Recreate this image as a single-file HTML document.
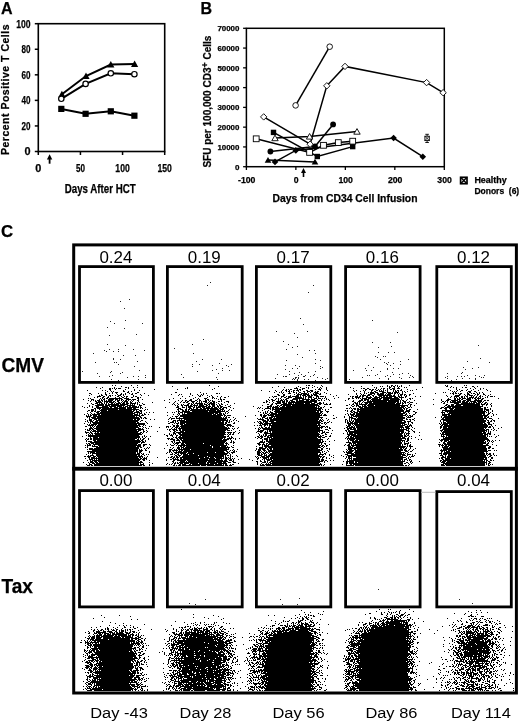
<!DOCTYPE html>
<html><head><meta charset="utf-8"><style>
html,body{margin:0;padding:0;background:#fff;}
svg{filter:grayscale(1);}
svg{display:block;}
text{font-family:"Liberation Sans", sans-serif;fill:#000;}
text[font-weight="bold"]{stroke:#000;stroke-width:0.25px;}
</style></head><body>
<svg width="520" height="724" viewBox="0 0 520 724">
<rect width="520" height="724" fill="#fff"/>
<rect x="38.3" y="23.7" width="126.39999999999999" height="127.8" fill="none" stroke="#000" stroke-width="1.6"/>
<line x1="34.8" y1="151.5" x2="38.3" y2="151.5" stroke="#000" stroke-width="1.5"/>
<text x="30.6" y="155.4" font-size="10.9" font-weight="bold" text-anchor="end">0</text>
<line x1="34.8" y1="125.94" x2="38.3" y2="125.94" stroke="#000" stroke-width="1.5"/>
<text x="30.6" y="129.84" font-size="10.9" font-weight="bold" text-anchor="end" textLength="9.0" lengthAdjust="spacingAndGlyphs">20</text>
<line x1="34.8" y1="100.38" x2="38.3" y2="100.38" stroke="#000" stroke-width="1.5"/>
<text x="30.6" y="104.28" font-size="10.9" font-weight="bold" text-anchor="end" textLength="9.0" lengthAdjust="spacingAndGlyphs">40</text>
<line x1="34.8" y1="74.82" x2="38.3" y2="74.82" stroke="#000" stroke-width="1.5"/>
<text x="30.6" y="78.72" font-size="10.9" font-weight="bold" text-anchor="end" textLength="9.0" lengthAdjust="spacingAndGlyphs">60</text>
<line x1="34.8" y1="49.260000000000005" x2="38.3" y2="49.260000000000005" stroke="#000" stroke-width="1.5"/>
<text x="30.6" y="53.160000000000004" font-size="10.9" font-weight="bold" text-anchor="end" textLength="9.0" lengthAdjust="spacingAndGlyphs">80</text>
<line x1="34.8" y1="23.700000000000003" x2="38.3" y2="23.700000000000003" stroke="#000" stroke-width="1.5"/>
<text x="30.6" y="27.6" font-size="10.9" font-weight="bold" text-anchor="end" textLength="14.4" lengthAdjust="spacingAndGlyphs">100</text>
<line x1="38.3" y1="151.5" x2="38.3" y2="155.0" stroke="#000" stroke-width="1.5"/>
<text x="38.3" y="172" font-size="10.9" font-weight="bold" text-anchor="middle">0</text>
<line x1="80.43333333333334" y1="151.5" x2="80.43333333333334" y2="155.0" stroke="#000" stroke-width="1.5"/>
<text x="80.43333333333334" y="172" font-size="10.9" font-weight="bold" text-anchor="middle" textLength="9.0" lengthAdjust="spacingAndGlyphs">50</text>
<line x1="122.56666666666666" y1="151.5" x2="122.56666666666666" y2="155.0" stroke="#000" stroke-width="1.5"/>
<text x="122.56666666666666" y="172" font-size="10.9" font-weight="bold" text-anchor="middle" textLength="14.4" lengthAdjust="spacingAndGlyphs">100</text>
<line x1="164.7" y1="151.5" x2="164.7" y2="155.0" stroke="#000" stroke-width="1.5"/>
<text x="164.7" y="172" font-size="10.9" font-weight="bold" text-anchor="middle" textLength="14.4" lengthAdjust="spacingAndGlyphs">150</text>
<text x="100.2" y="193.4" font-size="12.2" font-weight="bold" text-anchor="middle" textLength="71" lengthAdjust="spacingAndGlyphs">Days After HCT</text>
<text transform="translate(8.6,89.5) rotate(-90)" x="0" y="0" font-size="10.9" font-weight="bold" text-anchor="middle" textLength="131" lengthAdjust="spacingAndGlyphs" letter-spacing="0.5">Percent Positive T Cells</text>
<path d="M49.6 163.7V158" stroke="#000" stroke-width="1.8"/><path d="M46.9 159.4L49.6 154.2L52.3 159.4Z" fill="#000"/>
<polyline points="61.9,94.3 86,76 110.8,64.5 134.6,64.1" fill="none" stroke="#000" stroke-width="2"/>
<polyline points="61.3,98.8 85.6,83.9 110.8,73.3 134.4,74.2" fill="none" stroke="#000" stroke-width="2"/>
<polyline points="61.3,108.9 85.6,113.8 110.8,111.3 134.4,115.7" fill="none" stroke="#000" stroke-width="2"/>
<path d="M58.3 97.3L61.9 90.7L65.5 97.3Z" fill="#000"/>
<path d="M82.4 79.0L86 72.4L89.6 79.0Z" fill="#000"/>
<path d="M107.2 67.5L110.8 60.9L114.39999999999999 67.5Z" fill="#000"/>
<path d="M131.0 67.1L134.6 60.49999999999999L138.2 67.1Z" fill="#000"/>
<circle cx="61.3" cy="98.8" r="2.7" fill="#fff" stroke="#000" stroke-width="1.2"/>
<circle cx="85.6" cy="83.9" r="2.7" fill="#fff" stroke="#000" stroke-width="1.2"/>
<circle cx="110.8" cy="73.3" r="2.7" fill="#fff" stroke="#000" stroke-width="1.2"/>
<circle cx="134.4" cy="74.2" r="2.7" fill="#fff" stroke="#000" stroke-width="1.2"/>
<rect x="58.199999999999996" y="105.80000000000001" width="6.2" height="6.2" fill="#000"/>
<rect x="82.5" y="110.7" width="6.2" height="6.2" fill="#000"/>
<rect x="107.7" y="108.2" width="6.2" height="6.2" fill="#000"/>
<rect x="131.3" y="112.60000000000001" width="6.2" height="6.2" fill="#000"/>
<text x="1" y="13.5" font-size="16" font-weight="bold" text-anchor="start">A</text>
<rect x="246.4" y="28.3" width="197.9" height="138.39999999999998" fill="none" stroke="#000" stroke-width="1.5"/>
<line x1="243.1" y1="166.7" x2="246.4" y2="166.7" stroke="#000" stroke-width="1.3"/>
<text x="239.4" y="169.6" font-size="8" font-weight="bold" text-anchor="end">0</text>
<line x1="243.1" y1="146.92857142857142" x2="246.4" y2="146.92857142857142" stroke="#000" stroke-width="1.3"/>
<text x="239.4" y="149.82857142857142" font-size="8" font-weight="bold" text-anchor="end" textLength="22" lengthAdjust="spacingAndGlyphs">10000</text>
<line x1="243.1" y1="127.15714285714284" x2="246.4" y2="127.15714285714284" stroke="#000" stroke-width="1.3"/>
<text x="239.4" y="130.05714285714285" font-size="8" font-weight="bold" text-anchor="end" textLength="22" lengthAdjust="spacingAndGlyphs">20000</text>
<line x1="243.1" y1="107.38571428571427" x2="246.4" y2="107.38571428571427" stroke="#000" stroke-width="1.3"/>
<text x="239.4" y="110.28571428571428" font-size="8" font-weight="bold" text-anchor="end" textLength="22" lengthAdjust="spacingAndGlyphs">30000</text>
<line x1="243.1" y1="87.61428571428571" x2="246.4" y2="87.61428571428571" stroke="#000" stroke-width="1.3"/>
<text x="239.4" y="90.51428571428572" font-size="8" font-weight="bold" text-anchor="end" textLength="22" lengthAdjust="spacingAndGlyphs">40000</text>
<line x1="243.1" y1="67.84285714285714" x2="246.4" y2="67.84285714285714" stroke="#000" stroke-width="1.3"/>
<text x="239.4" y="70.74285714285715" font-size="8" font-weight="bold" text-anchor="end" textLength="22" lengthAdjust="spacingAndGlyphs">50000</text>
<line x1="243.1" y1="48.07142857142857" x2="246.4" y2="48.07142857142857" stroke="#000" stroke-width="1.3"/>
<text x="239.4" y="50.97142857142857" font-size="8" font-weight="bold" text-anchor="end" textLength="22" lengthAdjust="spacingAndGlyphs">60000</text>
<line x1="243.1" y1="28.30000000000001" x2="246.4" y2="28.30000000000001" stroke="#000" stroke-width="1.3"/>
<text x="239.4" y="31.20000000000001" font-size="8" font-weight="bold" text-anchor="end" textLength="22" lengthAdjust="spacingAndGlyphs">70000</text>
<line x1="246.4" y1="166.7" x2="246.4" y2="170.0" stroke="#000" stroke-width="1.3"/>
<text x="246.70000000000002" y="183.2" font-size="8.7" font-weight="bold" text-anchor="middle">-100</text>
<line x1="295.875" y1="166.7" x2="295.875" y2="170.0" stroke="#000" stroke-width="1.3"/>
<text x="296.175" y="183.2" font-size="8.7" font-weight="bold" text-anchor="middle">0</text>
<line x1="345.35" y1="166.7" x2="345.35" y2="170.0" stroke="#000" stroke-width="1.3"/>
<text x="345.65000000000003" y="183.2" font-size="8.7" font-weight="bold" text-anchor="middle">100</text>
<line x1="394.82500000000005" y1="166.7" x2="394.82500000000005" y2="170.0" stroke="#000" stroke-width="1.3"/>
<text x="395.12500000000006" y="183.2" font-size="8.7" font-weight="bold" text-anchor="middle">200</text>
<line x1="444.3" y1="166.7" x2="444.3" y2="170.0" stroke="#000" stroke-width="1.3"/>
<text x="444.6" y="183.2" font-size="8.7" font-weight="bold" text-anchor="middle">300</text>
<text x="345" y="201.8" font-size="10.8" font-weight="bold" text-anchor="middle" textLength="145" lengthAdjust="spacingAndGlyphs">Days from CD34 Cell Infusion</text>
<text transform="translate(210.9,101.6) rotate(-90)" x="0" y="0" font-size="10.1" font-weight="bold" text-anchor="middle" textLength="132" lengthAdjust="spacingAndGlyphs">SFU per 100,000 CD3<tspan dy="-3.4" font-size="9">+</tspan><tspan dy="3.4"> Cells</tspan></text>
<path d="M303.5 177V171.5" stroke="#000" stroke-width="1.6"/><path d="M301 173L303.5 168L306 173Z" fill="#000"/>
<text x="200.5" y="13.8" font-size="16" font-weight="bold" text-anchor="start">B</text>
<rect x="460.6" y="177.3" width="6.4" height="6.4" fill="#fff" stroke="#000" stroke-width="1.7"/><path d="M460.6 177.3L467 183.7M467 177.3L460.6 183.7" stroke="#000" stroke-width="1.4"/>
<text x="474.4" y="182.9" font-size="8.6" font-weight="bold" text-anchor="start" textLength="32.3" lengthAdjust="spacingAndGlyphs">Healthy</text>
<text x="474.4" y="193.8" font-size="8.6" font-weight="bold" text-anchor="start" textLength="44.8" lengthAdjust="spacingAndGlyphs">Donors&#160; (6)</text>
<polyline points="295.6,105.4 329.7,46.7" fill="none" stroke="#000" stroke-width="1.5"/>
<polyline points="263.7,116.9 310.1,144.2 326.8,85.8 345,66.4 426.6,82.6 443.1,92.7" fill="none" stroke="#000" stroke-width="1.5"/>
<polyline points="273.5,132.4 317.3,156.5 352.7,146.6" fill="none" stroke="#000" stroke-width="1.5"/>
<polyline points="275,138.1 309.6,136.5 357,131.6" fill="none" stroke="#000" stroke-width="1.5"/>
<polyline points="256.2,138.8 309.6,152.4 323.5,145.3 338.3,142.6 352.7,141.2" fill="none" stroke="#000" stroke-width="1.5"/>
<polyline points="270.4,151.5 315,146.5 333.1,124.4" fill="none" stroke="#000" stroke-width="1.5"/>
<polyline points="268,160.1 315,161.9" fill="none" stroke="#000" stroke-width="1.5"/>
<polyline points="275,161.9 295.8,150.4 393.6,138 422.8,156.7" fill="none" stroke="#000" stroke-width="1.5"/>
<circle cx="295.6" cy="105.4" r="2.8" fill="#fff" stroke="#000" stroke-width="0.9"/>
<circle cx="329.7" cy="46.7" r="2.8" fill="#fff" stroke="#000" stroke-width="0.9"/>
<path d="M263.7 113.7L266.9 116.9L263.7 120.10000000000001L260.5 116.9Z" fill="#fff" stroke="#000" stroke-width="0.9"/>
<path d="M310.1 141.0L313.3 144.2L310.1 147.39999999999998L306.90000000000003 144.2Z" fill="#fff" stroke="#000" stroke-width="0.9"/>
<path d="M326.8 82.6L330.0 85.8L326.8 89.0L323.6 85.8Z" fill="#fff" stroke="#000" stroke-width="0.9"/>
<path d="M345 63.2L348.2 66.4L345 69.60000000000001L341.8 66.4Z" fill="#fff" stroke="#000" stroke-width="0.9"/>
<path d="M426.6 79.39999999999999L429.8 82.6L426.6 85.8L423.40000000000003 82.6Z" fill="#fff" stroke="#000" stroke-width="0.9"/>
<path d="M443.1 89.5L446.3 92.7L443.1 95.9L439.90000000000003 92.7Z" fill="#fff" stroke="#000" stroke-width="0.9"/>
<rect x="270.8" y="129.70000000000002" width="5.4" height="5.4" fill="#000"/>
<rect x="314.6" y="153.8" width="5.4" height="5.4" fill="#000"/>
<rect x="350.0" y="143.9" width="5.4" height="5.4" fill="#000"/>
<path d="M271.8 140.7L275 135.1L278.2 140.7Z" fill="#fff" stroke="#000" stroke-width="0.9"/>
<path d="M306.40000000000003 139.1L309.6 133.5L312.8 139.1Z" fill="#fff" stroke="#000" stroke-width="0.9"/>
<path d="M353.8 134.2L357 128.6L360.2 134.2Z" fill="#fff" stroke="#000" stroke-width="0.9"/>
<rect x="253.29999999999998" y="135.9" width="5.8" height="5.8" fill="#fff" stroke="#000" stroke-width="0.9"/>
<rect x="306.70000000000005" y="149.5" width="5.8" height="5.8" fill="#fff" stroke="#000" stroke-width="0.9"/>
<rect x="320.6" y="142.4" width="5.8" height="5.8" fill="#fff" stroke="#000" stroke-width="0.9"/>
<rect x="335.40000000000003" y="139.7" width="5.8" height="5.8" fill="#fff" stroke="#000" stroke-width="0.9"/>
<rect x="349.8" y="138.29999999999998" width="5.8" height="5.8" fill="#fff" stroke="#000" stroke-width="0.9"/>
<circle cx="270.4" cy="151.5" r="2.9" fill="#000"/>
<circle cx="315" cy="146.5" r="2.9" fill="#000"/>
<circle cx="333.1" cy="124.4" r="2.9" fill="#000"/>
<path d="M264.7 162.79999999999998L268 157.0L271.3 162.79999999999998Z" fill="#000"/>
<path d="M311.7 164.6L315 158.8L318.3 164.6Z" fill="#000"/>
<path d="M275 158.6L278.3 161.9L275 165.20000000000002L271.7 161.9Z" fill="#000"/>
<path d="M295.8 147.1L299.1 150.4L295.8 153.70000000000002L292.5 150.4Z" fill="#000"/>
<path d="M393.6 134.7L396.90000000000003 138L393.6 141.3L390.3 138Z" fill="#000"/>
<path d="M422.8 153.39999999999998L426.1 156.7L422.8 160.0L419.5 156.7Z" fill="#000"/>
<path d="M427.1 134.3V142.5M425.3 134.3H428.9M425.3 142.5H428.9" stroke="#000" stroke-width="0.9"/>
<rect x="424.9" y="136.2" width="4.4" height="4.4" fill="#fff" stroke="#000" stroke-width="0.9"/><path d="M424.9 136.2L429.3 140.6M429.3 136.2L424.9 140.6" stroke="#000" stroke-width="0.8"/>
<text x="1" y="236.5" font-size="16.8" font-weight="bold" text-anchor="start">C</text>
<text x="1.5" y="371.8" font-size="19.5" font-weight="bold" text-anchor="start" textLength="42.5" lengthAdjust="spacingAndGlyphs">CMV</text>
<text x="1.5" y="592.6" font-size="19.5" font-weight="bold" text-anchor="start" textLength="31.5" lengthAdjust="spacingAndGlyphs">Tax</text>
<rect x="73.7" y="244.9" width="442.7" height="448.1" fill="none" stroke="#000" stroke-width="3"/>
<rect x="72.2" y="466.8" width="445.7" height="3.9" fill="#000"/>
<rect x="79.5" y="266.59999999999997" width="73.90000000000002" height="115.80000000000003" fill="none" stroke="#000" stroke-width="2.8"/>
<text x="115.95" y="263.2" font-size="15.9" text-anchor="middle" textLength="33" lengthAdjust="spacingAndGlyphs">0.24</text>
<rect x="167.4" y="266.59999999999997" width="74.8" height="115.80000000000003" fill="none" stroke="#000" stroke-width="2.8"/>
<text x="204.3" y="263.2" font-size="15.9" text-anchor="middle" textLength="33" lengthAdjust="spacingAndGlyphs">0.19</text>
<rect x="256.4" y="266.59999999999997" width="74.39999999999999" height="115.80000000000003" fill="none" stroke="#000" stroke-width="2.8"/>
<text x="293.1" y="263.2" font-size="15.9" text-anchor="middle" textLength="33" lengthAdjust="spacingAndGlyphs">0.17</text>
<rect x="345.59999999999997" y="266.59999999999997" width="74.50000000000001" height="115.80000000000003" fill="none" stroke="#000" stroke-width="2.8"/>
<text x="382.35" y="263.2" font-size="15.9" text-anchor="middle" textLength="33" lengthAdjust="spacingAndGlyphs">0.16</text>
<rect x="436.79999999999995" y="266.59999999999997" width="74.50000000000007" height="115.80000000000003" fill="none" stroke="#000" stroke-width="2.8"/>
<text x="473.55" y="263.2" font-size="15.9" text-anchor="middle" textLength="33" lengthAdjust="spacingAndGlyphs">0.12</text>
<rect x="79.5" y="490.59999999999997" width="73.90000000000002" height="116.29999999999997" fill="none" stroke="#000" stroke-width="2.8"/>
<text x="115.95" y="486.2" font-size="15.9" text-anchor="middle" textLength="33" lengthAdjust="spacingAndGlyphs">0.00</text>
<rect x="167.4" y="490.59999999999997" width="74.8" height="116.29999999999997" fill="none" stroke="#000" stroke-width="2.8"/>
<text x="204.3" y="486.2" font-size="15.9" text-anchor="middle" textLength="33" lengthAdjust="spacingAndGlyphs">0.04</text>
<rect x="256.4" y="490.59999999999997" width="74.39999999999999" height="116.29999999999997" fill="none" stroke="#000" stroke-width="2.8"/>
<text x="293.1" y="486.2" font-size="15.9" text-anchor="middle" textLength="33" lengthAdjust="spacingAndGlyphs">0.02</text>
<rect x="345.59999999999997" y="490.59999999999997" width="74.50000000000001" height="116.29999999999997" fill="none" stroke="#000" stroke-width="2.8"/>
<text x="382.35" y="486.2" font-size="15.9" text-anchor="middle" textLength="33" lengthAdjust="spacingAndGlyphs">0.00</text>
<rect x="436.79999999999995" y="491.59999999999997" width="74.50000000000007" height="115.29999999999997" fill="none" stroke="#000" stroke-width="2.8"/>
<text x="473.55" y="486.2" font-size="15.9" text-anchor="middle" textLength="33" lengthAdjust="spacingAndGlyphs">0.04</text>
<line x1="421" y1="492.3" x2="435.5" y2="492.3" stroke="#bbb" stroke-width="1"/>
<text x="119" y="718.2" font-size="15.2" text-anchor="middle" textLength="57.6" lengthAdjust="spacingAndGlyphs">Day -43</text>
<text x="205.5" y="718.2" font-size="15.2" text-anchor="middle" textLength="51.8" lengthAdjust="spacingAndGlyphs">Day 28</text>
<text x="298.5" y="718.2" font-size="15.2" text-anchor="middle" textLength="52.1" lengthAdjust="spacingAndGlyphs">Day 56</text>
<text x="391.4" y="718.2" font-size="15.2" text-anchor="middle" textLength="52.0" lengthAdjust="spacingAndGlyphs">Day 86</text>
<text x="480.9" y="718.2" font-size="15.2" text-anchor="middle" textLength="60.0" lengthAdjust="spacingAndGlyphs">Day 114</text>
<path d="M112 385.5h1m2 0h1m15 0h1m5 0h1m71 0h1m96 0h1m1 0h2m2 0h1m8 0h1m50 0h1m14 0h1m3 0h2m2 0h1m1 0h1m3 0h1m7 0h1m35 0h1m1 0h1m16 0h1m1 0h1M121 386.5h1m50 0h1m45 0h1m59 0h1m19 0h1m15 0h1m7 0h1m38 0h1m18 0h1m1 0h1m4 0h1m1 0h1m1 0h1m1 0h2m2 0h1m1 0h1m1 0h1m44 0h2m3 0h1m20 0h2m3 0h1M96 387.5h1m5 0h1m11 0h1m10 0h2m1 0h1m4 0h1m3 0h1m4 0h1m44 0h1m84 0h1m11 0h1m11 0h1m3 0h1m5 0h1m1 0h1m3 0h1m4 0h1m2 0h1m5 0h1m23 0h1m23 0h1m1 0h1m12 0h2m3 0h1m3 0h1m5 0h1m1 0h1m15 0h1m27 0h1m2 0h1m2 0h1m5 0h1m2 0h2m7 0h1M100 388.5h1m8 0h2m1 0h1m1 0h1m1 0h1m1 0h3m7 0h1m56 0h1m1 0h1m26 0h1m79 0h4m4 0h3m3 0h1m10 0h1m1 0h1m4 0h1m26 0h1m7 0h1m1 0h2m2 0h2m7 0h1m4 0h1m1 0h2m2 0h1m1 0h1m2 0h3m2 0h3m56 0h1m13 0h1m4 0h1m4 0h1m2 0h1M109 389.5h2m4 0h1m9 0h1m8 0h1m19 0h1m22 0h1m34 0h1m70 0h1m2 0h1m1 0h1m1 0h2m5 0h1m1 0h2m1 0h1m12 0h1m2 0h3m5 0h1m38 0h2m2 0h2m1 0h2m1 0h1m2 0h1m1 0h1m2 0h1m3 0h1m2 0h2m1 0h2m6 0h1m5 0h1m8 0h1m31 0h1m7 0h1m2 0h1m7 0h1m5 0h1m6 0h1m5 0h1M87 390.5h1m14 0h1m2 0h1m4 0h1m12 0h1m10 0h1m4 0h1m121 0h1m13 0h1m6 0h1m2 0h2m2 0h1m3 0h2m1 0h3m1 0h1m5 0h2m2 0h3m7 0h1m6 0h1m25 0h1m2 0h1m6 0h1m1 0h1m5 0h2m3 0h2m1 0h1m1 0h1m1 0h1m1 0h1m1 0h1m5 0h1m1 0h1m1 0h2m1 0h2m8 0h1m1 0h1m37 0h1m6 0h1m3 0h2m3 0h1m4 0h1m6 0h1m8 0h1M107 391.5h1m3 0h1m1 0h1m9 0h2m3 0h1m2 0h1m137 0h1m6 0h1m4 0h1m4 0h1m1 0h2m1 0h1m1 0h1m4 0h1m4 0h2m2 0h3m1 0h2m2 0h1m1 0h2m35 0h1m5 0h1m3 0h1m6 0h1m2 0h2m3 0h5m3 0h1m5 0h1m1 0h2m1 0h1m3 0h1m1 0h1m2 0h1m44 0h1m1 0h1m1 0h1m3 0h1m7 0h3m3 0h2m14 0h1M105 392.5h1m6 0h1m2 0h3m9 0h2m8 0h2m36 0h2m23 0h1m73 0h1m4 0h1m1 0h1m1 0h1m5 0h1m3 0h2m1 0h1m2 0h2m3 0h1m2 0h1m2 0h1m3 0h4m6 0h1m39 0h1m3 0h1m1 0h4m1 0h3m4 0h4m1 0h4m1 0h1m1 0h5m3 0h1m2 0h1m37 0h1m1 0h1m7 0h1m1 0h1m11 0h1m1 0h2m5 0h1m2 0h1m2 0h1M89 393.5h2m7 0h1m6 0h1m3 0h1m2 0h1m3 0h1m4 0h1m3 0h1m3 0h1m2 0h1m2 0h2m7 0h1m45 0h1m12 0h1m2 0h1m9 0h2m1 0h1m62 0h1m5 0h3m5 0h1m1 0h1m2 0h6m1 0h1m4 0h1m1 0h4m1 0h1m5 0h1m29 0h1m3 0h1m3 0h1m1 0h1m3 0h5m2 0h2m1 0h4m2 0h1m1 0h5m1 0h2m1 0h1m1 0h1m2 0h1m10 0h1m21 0h1m14 0h1m1 0h2m1 0h2m1 0h1m1 0h2m5 0h2m2 0h1m1 0h2m2 0h1m1 0h1m3 0h1M91 394.5h1m9 0h1m3 0h2m10 0h1m2 0h2m1 0h1m1 0h1m5 0h2m7 0h1m30 0h1m7 0h1m1 0h1m8 0h1m6 0h1m3 0h1m1 0h1m73 0h2m4 0h2m9 0h1m2 0h5m1 0h6m2 0h1m1 0h4m2 0h2m9 0h1m17 0h1m7 0h1m4 0h1m1 0h1m4 0h4m2 0h1m2 0h7m1 0h1m1 0h4m3 0h1m3 0h1m1 0h3m1 0h2m3 0h2m42 0h1m5 0h2m3 0h1m2 0h3m5 0h1m1 0h2m4 0h2m5 0h1M89 395.5h1m9 0h1m1 0h2m3 0h1m2 0h2m1 0h1m2 0h1m2 0h3m2 0h1m9 0h1m7 0h1m6 0h1m29 0h1m13 0h1m5 0h1m1 0h1m1 0h1m4 0h1m3 0h1m66 0h2m3 0h2m5 0h1m5 0h3m1 0h1m1 0h4m1 0h3m1 0h2m1 0h4m18 0h1m20 0h1m2 0h1m1 0h4m1 0h3m2 0h2m4 0h14m1 0h2m3 0h1m1 0h2m2 0h1m1 0h1m2 0h1m36 0h1m8 0h5m5 0h1m1 0h1m1 0h4m1 0h1m2 0h1m2 0h1m4 0h1m2 0h1M97 396.5h4m2 0h2m3 0h1m1 0h1m6 0h2m2 0h1m2 0h1m1 0h2m5 0h1m1 0h2m45 0h1m6 0h1m9 0h2m8 0h1m2 0h1m4 0h1m3 0h1m6 0h1m43 0h1m1 0h3m4 0h3m2 0h1m1 0h3m1 0h7m1 0h1m2 0h1m1 0h2m1 0h4m4 0h3m1 0h4m1 0h1m7 0h1m16 0h1m1 0h2m1 0h3m1 0h2m1 0h2m2 0h2m2 0h1m2 0h1m1 0h2m2 0h3m1 0h2m1 0h2m1 0h7m2 0h2m1 0h1m3 0h2m8 0h1m4 0h1m26 0h1m3 0h1m2 0h5m2 0h2m1 0h1m1 0h2m3 0h1m1 0h1m2 0h1m2 0h2m1 0h1m4 0h1m2 0h3m1 0h1M94 397.5h1m2 0h1m4 0h2m3 0h2m6 0h1m3 0h1m2 0h2m2 0h1m4 0h2m4 0h2m1 0h1m54 0h1m11 0h1m4 0h2m6 0h1m3 0h2m43 0h1m3 0h1m7 0h1m2 0h2m2 0h4m3 0h7m1 0h1m1 0h1m2 0h4m1 0h1m2 0h1m1 0h1m6 0h1m12 0h1m13 0h1m2 0h5m2 0h1m3 0h6m2 0h6m1 0h11m2 0h4m1 0h5m1 0h1m44 0h1m3 0h1m1 0h1m2 0h1m1 0h2m1 0h1m2 0h1m1 0h5m1 0h2m1 0h1m1 0h1m4 0h1m1 0h1M88 398.5h1m1 0h1m9 0h1m1 0h1m1 0h1m1 0h2m1 0h13m2 0h5m8 0h2m34 0h1m6 0h1m4 0h1m7 0h1m4 0h1m5 0h3m5 0h1m1 0h1m1 0h1m3 0h1m55 0h1m1 0h1m1 0h1m5 0h3m4 0h11m1 0h1m2 0h1m2 0h1m2 0h3m1 0h3m1 0h1m1 0h1m1 0h1m7 0h1m13 0h2m2 0h2m2 0h1m1 0h1m1 0h1m1 0h5m1 0h3m1 0h6m1 0h3m1 0h16m2 0h1m7 0h2m1 0h1m35 0h1m5 0h2m1 0h1m1 0h2m1 0h4m1 0h4m1 0h1m1 0h2m1 0h4m1 0h2m14 0h1M83 399.5h1m7 0h3m5 0h1m1 0h1m1 0h2m3 0h6m1 0h3m1 0h1m1 0h2m3 0h5m1 0h4m2 0h1m3 0h1m26 0h1m20 0h2m5 0h1m1 0h1m5 0h1m1 0h2m9 0h1m1 0h2m1 0h2m43 0h1m2 0h2m2 0h1m2 0h1m2 0h1m1 0h1m1 0h2m5 0h6m1 0h1m2 0h8m1 0h4m2 0h1m3 0h1m4 0h1m1 0h1m19 0h1m12 0h2m1 0h5m2 0h10m2 0h6m1 0h10m1 0h1m5 0h1m2 0h1m22 0h1m7 0h1m5 0h4m3 0h2m1 0h3m1 0h2m3 0h5m4 0h2m1 0h1m2 0h2M88 400.5h1m2 0h1m1 0h1m1 0h1m1 0h3m1 0h2m1 0h1m1 0h1m1 0h5m2 0h1m1 0h3m1 0h1m1 0h1m1 0h2m1 0h1m2 0h1m1 0h1m3 0h2m25 0h1m13 0h1m3 0h1m2 0h2m2 0h3m3 0h2m2 0h2m4 0h2m1 0h1m1 0h1m1 0h1m8 0h1m44 0h1m2 0h1m2 0h3m3 0h1m1 0h3m1 0h1m1 0h2m2 0h3m3 0h2m1 0h5m2 0h3m1 0h7m1 0h2m1 0h1m2 0h1m4 0h1m15 0h1m7 0h1m5 0h4m1 0h2m1 0h2m1 0h1m1 0h27m1 0h1m1 0h2m2 0h1m7 0h1m26 0h1m4 0h3m2 0h7m1 0h2m2 0h3m1 0h4m3 0h8m2 0h2m1 0h2M90 401.5h1m4 0h2m1 0h3m1 0h1m1 0h8m1 0h2m2 0h2m3 0h1m1 0h4m2 0h1m1 0h1m5 0h1m36 0h1m5 0h1m3 0h1m1 0h2m2 0h4m2 0h1m1 0h1m1 0h1m1 0h4m2 0h1m2 0h3m3 0h2m1 0h1m4 0h3m37 0h2m4 0h1m3 0h5m1 0h3m1 0h2m1 0h1m1 0h4m1 0h21m35 0h2m4 0h3m2 0h1m3 0h20m1 0h11m1 0h1m2 0h3m3 0h1m32 0h2m1 0h1m1 0h1m2 0h1m1 0h4m1 0h4m1 0h3m1 0h3m1 0h6m1 0h5m1 0h1M96 402.5h6m2 0h1m1 0h2m1 0h5m1 0h1m2 0h2m1 0h1m1 0h2m1 0h2m2 0h2m3 0h1m1 0h1m1 0h1m12 0h1m16 0h1m4 0h1m5 0h1m2 0h2m1 0h2m4 0h2m2 0h1m2 0h1m1 0h1m3 0h2m1 0h1m1 0h2m1 0h2m1 0h1m7 0h1m3 0h1m34 0h2m1 0h1m2 0h1m3 0h1m3 0h4m1 0h3m1 0h1m1 0h24m2 0h3m2 0h2m2 0h1m30 0h2m1 0h1m1 0h1m2 0h1m1 0h8m1 0h23m1 0h2m1 0h1m1 0h1m1 0h2m1 0h2m1 0h3m28 0h1m2 0h1m2 0h1m2 0h11m1 0h6m1 0h1m1 0h1m1 0h4m1 0h3m1 0h1m2 0h2M87 403.5h1m3 0h1m3 0h3m1 0h1m1 0h2m1 0h1m1 0h1m1 0h1m2 0h2m1 0h1m1 0h5m1 0h3m1 0h3m1 0h6m1 0h1m4 0h1m30 0h1m3 0h1m10 0h2m1 0h1m1 0h1m1 0h8m1 0h1m2 0h1m1 0h6m3 0h1m2 0h1m12 0h1m37 0h1m2 0h6m2 0h4m1 0h4m1 0h1m1 0h9m1 0h5m1 0h4m2 0h5m1 0h1m2 0h1m3 0h1m22 0h1m1 0h3m1 0h1m1 0h1m3 0h3m1 0h26m1 0h5m1 0h2m1 0h1m3 0h1m6 0h1m26 0h2m9 0h5m2 0h14m1 0h4m1 0h1m2 0h2m1 0h1m3 0h1M92 404.5h2m3 0h7m1 0h2m1 0h11m1 0h8m2 0h1m1 0h1m1 0h1m2 0h1m1 0h1m3 0h2m27 0h1m1 0h1m3 0h1m2 0h1m1 0h1m3 0h2m2 0h2m1 0h1m2 0h1m1 0h4m1 0h3m1 0h2m1 0h4m1 0h1m2 0h1m1 0h2m4 0h1m39 0h2m2 0h2m3 0h1m4 0h37m1 0h2m3 0h4m1 0h2m18 0h1m2 0h2m2 0h2m1 0h8m1 0h32m2 0h1m5 0h1m1 0h2m21 0h1m12 0h2m3 0h3m2 0h24m1 0h4m1 0h2m2 0h1M89 405.5h1m5 0h9m1 0h5m1 0h14m2 0h8m4 0h3m33 0h1m1 0h1m3 0h2m1 0h5m1 0h2m1 0h5m1 0h5m2 0h2m1 0h1m2 0h3m2 0h1m1 0h2m4 0h1m4 0h1m31 0h1m7 0h2m5 0h2m1 0h2m1 0h8m1 0h27m27 0h2m3 0h1m2 0h1m1 0h3m3 0h1m1 0h2m1 0h7m1 0h33m2 0h1m3 0h1m30 0h2m1 0h2m1 0h3m1 0h6m2 0h17m2 0h1m3 0h1m4 0h1M82 406.5h1m6 0h1m2 0h1m3 0h3m3 0h6m1 0h7m1 0h5m1 0h1m1 0h3m1 0h2m1 0h5m1 0h1m1 0h1m36 0h2m3 0h1m3 0h1m1 0h5m1 0h1m1 0h1m1 0h9m1 0h3m1 0h3m2 0h2m1 0h3m5 0h2m23 0h1m13 0h5m1 0h1m1 0h3m1 0h1m2 0h3m1 0h29m1 0h1m1 0h2m4 0h1m27 0h2m2 0h1m1 0h3m1 0h5m1 0h32m1 0h4m2 0h1m2 0h1m33 0h1m2 0h36m8 0h1M84 407.5h1m2 0h1m4 0h1m3 0h13m1 0h2m2 0h4m1 0h7m1 0h12m1 0h2m3 0h1m19 0h1m10 0h3m3 0h3m1 0h1m1 0h3m2 0h2m1 0h5m1 0h3m1 0h4m1 0h2m1 0h3m1 0h1m1 0h2m1 0h4m3 0h1m27 0h1m1 0h1m6 0h2m1 0h1m1 0h7m1 0h37m1 0h1m1 0h2m1 0h1m6 0h2m18 0h1m8 0h4m1 0h40m1 0h1m2 0h2m1 0h1m29 0h3m1 0h6m1 0h29m3 0h2m1 0h1M94 408.5h2m1 0h4m1 0h24m1 0h5m1 0h3m4 0h1m1 0h1m35 0h3m5 0h1m2 0h3m1 0h1m2 0h2m2 0h2m1 0h15m1 0h2m1 0h2m2 0h1m6 0h1m23 0h1m1 0h1m2 0h1m2 0h6m1 0h2m1 0h47m24 0h2m1 0h1m1 0h1m1 0h3m1 0h2m1 0h42m1 0h2m1 0h2m32 0h2m2 0h3m2 0h5m1 0h28m1 0h2m4 0h1M91 409.5h3m1 0h1m3 0h1m1 0h17m1 0h20m6 0h1m1 0h1m29 0h2m1 0h3m2 0h2m1 0h2m1 0h15m1 0h2m1 0h9m1 0h4m5 0h1m34 0h1m5 0h1m1 0h45m1 0h3m1 0h1m2 0h1m2 0h1m23 0h1m1 0h2m1 0h46m1 0h1m1 0h1m2 0h2m6 0h1m27 0h2m3 0h3m1 0h29m1 0h5m1 0h1M88 410.5h2m1 0h3m1 0h1m4 0h7m1 0h24m1 0h2m1 0h1m2 0h3m2 0h1m33 0h1m3 0h2m1 0h2m1 0h1m1 0h26m1 0h4m1 0h1m1 0h1m3 0h1m2 0h1m30 0h1m5 0h1m3 0h1m2 0h5m1 0h40m4 0h1m19 0h1m1 0h1m3 0h2m4 0h2m1 0h44m2 0h4m32 0h41m1 0h1m1 0h3m3 0h1M87 411.5h1m3 0h2m1 0h2m1 0h3m1 0h33m2 0h3m1 0h2m34 0h1m1 0h2m2 0h8m2 0h16m1 0h16m1 0h2m30 0h1m6 0h1m1 0h1m2 0h1m3 0h42m1 0h2m1 0h3m3 0h3m18 0h1m2 0h2m1 0h2m2 0h47m1 0h5m3 0h2m27 0h1m2 0h41m2 0h1m3 0h1M90 412.5h1m5 0h3m1 0h33m1 0h6m1 0h1m4 0h1m2 0h1m3 0h1m13 0h1m4 0h1m1 0h1m3 0h1m1 0h3m1 0h37m4 0h1m2 0h1m31 0h1m2 0h1m1 0h1m1 0h1m2 0h3m2 0h44m1 0h2m5 0h1m23 0h2m1 0h4m1 0h42m2 0h3m2 0h1m6 0h2m24 0h4m2 0h1m1 0h36m1 0h1m1 0h1m1 0h1M87 413.5h1m3 0h1m2 0h1m2 0h38m2 0h1m1 0h3m2 0h1m33 0h2m2 0h1m1 0h1m2 0h27m1 0h3m1 0h3m1 0h1m1 0h1m1 0h1m35 0h1m1 0h2m2 0h1m1 0h6m1 0h43m1 0h1m24 0h1m2 0h1m2 0h2m1 0h49m1 0h1m2 0h1m5 0h1m26 0h1m1 0h1m3 0h37m3 0h2m2 0h1M84 414.5h1m3 0h1m1 0h1m1 0h8m1 0h32m1 0h4m1 0h1m2 0h1m1 0h2m2 0h1m24 0h1m3 0h1m1 0h1m2 0h30m1 0h3m1 0h5m1 0h2m35 0h2m2 0h1m2 0h2m1 0h50m1 0h1m2 0h2m19 0h1m2 0h1m1 0h5m1 0h47m2 0h2m6 0h2m27 0h8m1 0h31m1 0h2m2 0h2m4 0h1m2 0h1M86 415.5h1m1 0h1m1 0h2m1 0h4m1 0h42m1 0h3m23 0h1m10 0h1m1 0h43m1 0h2m1 0h4m24 0h1m4 0h2m1 0h4m1 0h6m1 0h47m1 0h4m6 0h1m14 0h1m2 0h3m1 0h51m1 0h1m1 0h2m1 0h1m29 0h5m1 0h40m5 0h1M86 416.5h5m2 0h42m1 0h1m2 0h2m31 0h1m2 0h3m2 0h41m3 0h1m1 0h1m18 0h1m15 0h1m1 0h3m5 0h49m24 0h1m4 0h1m1 0h1m1 0h50m3 0h1m1 0h1m1 0h3m28 0h1m2 0h39m1 0h3m1 0h1m2 0h1M87 417.5h1m1 0h1m1 0h5m1 0h42m1 0h2m2 0h2m24 0h1m5 0h1m2 0h1m3 0h39m1 0h1m1 0h2m1 0h2m3 0h1m28 0h3m2 0h1m1 0h4m1 0h1m1 0h47m13 0h1m7 0h1m4 0h4m3 0h1m1 0h47m2 0h4m24 0h1m5 0h1m1 0h40m1 0h2m1 0h2M89 418.5h1m2 0h48m1 0h1m1 0h1m1 0h2m22 0h1m1 0h4m1 0h51m8 0h1m21 0h1m2 0h1m1 0h1m2 0h3m1 0h3m1 0h46m2 0h1m4 0h1m6 0h2m14 0h1m1 0h5m1 0h48m1 0h1m7 0h1m27 0h2m1 0h42m2 0h3m6 0h1M85 419.5h1m3 0h3m2 0h3m1 0h35m1 0h2m1 0h3m10 0h1m3 0h1m13 0h1m2 0h1m7 0h1m1 0h1m2 0h42m1 0h1m2 0h1m3 0h1m23 0h6m3 0h2m1 0h49m1 0h1m1 0h1m5 0h1m16 0h2m2 0h1m1 0h1m2 0h49m3 0h2m1 0h2m1 0h2m27 0h43m2 0h1m5 0h1M87 420.5h1m1 0h3m1 0h1m2 0h43m2 0h2m30 0h3m1 0h8m1 0h42m1 0h1m3 0h1m2 0h1m25 0h4m1 0h2m1 0h48m1 0h3m1 0h1m3 0h1m17 0h1m1 0h1m1 0h1m1 0h1m1 0h1m1 0h50m5 0h1m3 0h1m25 0h1m2 0h43m1 0h2m2 0h1m1 0h2M85 421.5h1m1 0h1m2 0h3m2 0h3m1 0h39m2 0h1m4 0h1m22 0h1m3 0h2m1 0h1m1 0h1m2 0h41m1 0h2m2 0h2m1 0h1m1 0h1m6 0h1m18 0h1m1 0h2m2 0h5m1 0h5m2 0h44m1 0h2m6 0h1m15 0h1m1 0h1m1 0h2m1 0h2m1 0h47m2 0h2m1 0h4m29 0h1m2 0h1m2 0h40m2 0h1m1 0h2m2 0h1M88 422.5h1m1 0h1m1 0h44m1 0h2m7 0h1m23 0h4m1 0h1m2 0h1m1 0h44m1 0h2m1 0h2m4 0h1m19 0h1m3 0h1m1 0h2m1 0h1m1 0h3m3 0h50m3 0h2m1 0h2m2 0h1m13 0h1m1 0h2m1 0h3m1 0h52m2 0h1m2 0h2m28 0h1m1 0h3m1 0h38m2 0h3M84 423.5h1m5 0h1m2 0h52m2 0h1m20 0h2m4 0h1m1 0h3m1 0h5m1 0h38m1 0h2m6 0h2m24 0h4m1 0h56m1 0h2m1 0h1m1 0h1m20 0h11m1 0h46m3 0h1m3 0h1m26 0h1m1 0h1m1 0h40m1 0h2m2 0h2m3 0h1M87 424.5h1m1 0h1m1 0h6m1 0h39m1 0h7m27 0h1m4 0h1m2 0h3m1 0h42m1 0h4m29 0h1m1 0h6m1 0h2m1 0h45m1 0h2m5 0h1m22 0h3m1 0h1m1 0h47m1 0h1m1 0h3m1 0h1m1 0h1m29 0h1m1 0h6m1 0h38m1 0h4M88 425.5h6m1 0h1m1 0h43m3 0h1m1 0h1m27 0h2m1 0h3m2 0h43m2 0h6m22 0h1m2 0h1m1 0h3m2 0h2m1 0h1m1 0h52m25 0h1m1 0h3m2 0h1m1 0h50m2 0h1m1 0h3m29 0h2m1 0h44m3 0h1m3 0h1M85 426.5h2m3 0h1m1 0h1m1 0h1m1 0h42m1 0h2m1 0h1m6 0h1m1 0h1m14 0h3m1 0h1m2 0h2m1 0h3m1 0h45m2 0h1m2 0h1m1 0h2m27 0h1m2 0h1m4 0h1m1 0h47m1 0h1m1 0h4m1 0h2m19 0h3m1 0h2m1 0h1m1 0h47m2 0h5m1 0h1m28 0h2m1 0h45m1 0h2m1 0h1M90 427.5h2m1 0h1m2 0h43m4 0h1m1 0h1m13 0h1m6 0h1m1 0h1m3 0h1m2 0h3m1 0h1m1 0h46m1 0h1m9 0h1m20 0h1m1 0h2m2 0h2m1 0h2m1 0h52m2 0h1m1 0h1m1 0h1m16 0h2m1 0h6m1 0h48m1 0h4m3 0h1m27 0h2m1 0h4m1 0h39m1 0h3m2 0h1m7 0h1M89 428.5h4m1 0h42m2 0h3m1 0h1m3 0h1m1 0h1m22 0h1m2 0h1m1 0h1m1 0h52m2 0h1m1 0h1m2 0h1m17 0h1m2 0h1m1 0h1m1 0h58m1 0h1m7 0h2m13 0h1m2 0h5m1 0h3m1 0h43m1 0h1m1 0h1m2 0h4m4 0h1m25 0h1m2 0h41m1 0h1m7 0h1m4 0h1M85 429.5h1m1 0h1m1 0h2m1 0h2m2 0h48m23 0h1m1 0h2m1 0h5m2 0h2m1 0h46m5 0h1m24 0h2m3 0h57m5 0h3m19 0h2m1 0h6m1 0h50m1 0h1m2 0h1m30 0h43m1 0h3m2 0h1m2 0h1M87 430.5h3m1 0h1m1 0h3m1 0h40m1 0h3m2 0h1m2 0h1m22 0h1m3 0h2m1 0h2m1 0h2m1 0h44m1 0h3m1 0h1m7 0h1m18 0h1m1 0h4m3 0h1m1 0h54m5 0h1m3 0h1m12 0h2m1 0h2m4 0h50m2 0h3m3 0h1m27 0h3m1 0h43m1 0h1m4 0h1m2 0h1M85 431.5h1m4 0h1m1 0h47m4 0h2m2 0h1m9 0h1m12 0h1m3 0h2m4 0h4m1 0h40m10 0h1m21 0h6m2 0h1m1 0h1m1 0h2m1 0h48m2 0h1m1 0h1m21 0h1m1 0h56m4 0h2m3 0h2m26 0h1m1 0h42m1 0h1m1 0h1m1 0h1M85 432.5h4m1 0h2m3 0h1m1 0h2m1 0h38m2 0h2m1 0h1m2 0h1m26 0h2m1 0h50m1 0h5m1 0h2m4 0h1m16 0h1m3 0h2m2 0h4m2 0h1m1 0h46m1 0h1m2 0h3m1 0h3m18 0h1m1 0h51m1 0h3m1 0h1m2 0h1m5 0h1m4 0h1m22 0h40m1 0h3m2 0h1m1 0h1M86 433.5h1m2 0h1m1 0h2m1 0h47m1 0h1m26 0h1m3 0h3m2 0h3m1 0h43m3 0h1m1 0h1m2 0h1m4 0h1m19 0h1m5 0h55m2 0h2m2 0h1m5 0h1m11 0h1m3 0h1m1 0h4m1 0h49m1 0h1m1 0h4m30 0h1m1 0h2m1 0h41m1 0h4M88 434.5h1m1 0h1m1 0h1m2 0h47m22 0h1m4 0h1m1 0h1m1 0h1m1 0h1m3 0h47m1 0h1m1 0h2m1 0h2m25 0h1m3 0h1m1 0h2m3 0h50m5 0h2m20 0h9m1 0h45m2 0h1m1 0h1m1 0h1m32 0h42m1 0h4m1 0h2m3 0h1M86 435.5h1m1 0h51m5 0h1m21 0h2m2 0h3m3 0h2m2 0h44m4 0h1m30 0h1m1 0h1m1 0h1m1 0h2m1 0h51m1 0h1m1 0h2m6 0h1m17 0h2m1 0h52m1 0h2m1 0h2m10 0h1m21 0h1m1 0h1m2 0h40m1 0h1m10 0h1M82 436.5h1m5 0h52m2 0h1m1 0h1m1 0h1m3 0h1m16 0h1m4 0h1m3 0h1m2 0h2m1 0h44m1 0h2m2 0h1m25 0h2m1 0h3m1 0h2m1 0h2m1 0h52m3 0h2m2 0h2m16 0h2m1 0h2m1 0h50m1 0h3m2 0h1m1 0h1m29 0h4m1 0h1m1 0h38m1 0h1m1 0h1m1 0h1m4 0h1M90 437.5h1m2 0h5m1 0h41m2 0h1m2 0h1m27 0h1m1 0h2m1 0h48m3 0h1m1 0h2m22 0h1m2 0h2m1 0h2m4 0h5m1 0h44m1 0h3m1 0h3m21 0h1m1 0h1m1 0h4m1 0h46m1 0h3m3 0h1m6 0h1m27 0h1m1 0h42m8 0h1M86 438.5h1m1 0h1m1 0h2m1 0h44m1 0h1m1 0h1m2 0h2m3 0h1m18 0h3m1 0h2m3 0h2m1 0h44m1 0h1m2 0h5m1 0h1m1 0h1m3 0h1m17 0h1m2 0h2m2 0h4m1 0h1m1 0h47m2 0h1m7 0h1m16 0h1m1 0h59m1 0h2m2 0h1m31 0h45M85 439.5h1m1 0h2m1 0h2m1 0h42m2 0h2m1 0h1m1 0h2m4 0h1m19 0h1m1 0h5m2 0h2m1 0h2m1 0h39m1 0h6m1 0h1m4 0h1m26 0h1m1 0h4m1 0h54m4 0h1m19 0h1m1 0h6m1 0h46m3 0h1m1 0h2m9 0h1m2 0h1m17 0h1m1 0h48M86 440.5h1m6 0h3m1 0h43m1 0h2m2 0h1m27 0h2m1 0h4m1 0h46m4 0h1m30 0h1m3 0h2m1 0h52m1 0h1m11 0h1m13 0h1m1 0h4m1 0h3m1 0h46m2 0h2m31 0h3m1 0h5m1 0h35m2 0h3m2 0h1m2 0h1m3 0h1M86 441.5h1m1 0h4m2 0h47m1 0h2m1 0h1m25 0h2m1 0h1m4 0h1m2 0h44m5 0h1m1 0h1m26 0h3m1 0h1m1 0h55m1 0h2m1 0h1m3 0h1m18 0h1m3 0h49m1 0h1m1 0h1m1 0h2m33 0h1m2 0h3m1 0h36m1 0h1m1 0h1m1 0h1m1 0h1m1 0h1M90 442.5h50m1 0h4m27 0h1m1 0h1m1 0h5m1 0h43m1 0h1m3 0h2m1 0h2m24 0h6m3 0h55m23 0h5m1 0h50m2 0h1m3 0h1m1 0h1m28 0h1m3 0h2m2 0h39m2 0h1m3 0h1M86 443.5h1m1 0h2m1 0h3m1 0h43m3 0h1m24 0h1m6 0h1m1 0h4m2 0h3m1 0h18m1 0h20m1 0h3m5 0h1m23 0h3m3 0h1m2 0h2m1 0h51m1 0h1m2 0h2m23 0h3m1 0h3m1 0h45m2 0h5m34 0h3m1 0h39m1 0h2M87 444.5h1m1 0h2m2 0h44m1 0h3m2 0h4m2 0h1m20 0h1m3 0h1m2 0h1m3 0h4m1 0h38m2 0h1m1 0h1m29 0h3m1 0h3m1 0h1m1 0h51m2 0h1m3 0h1m3 0h1m15 0h1m2 0h2m1 0h1m1 0h1m1 0h46m1 0h1m1 0h2m1 0h1m2 0h1m27 0h3m1 0h1m1 0h39m3 0h2m4 0h1M85 445.5h1m1 0h4m1 0h1m1 0h1m3 0h43m2 0h2m5 0h1m16 0h1m3 0h3m2 0h1m1 0h32m1 0h16m6 0h1m25 0h1m2 0h1m1 0h5m2 0h50m1 0h2m2 0h2m16 0h1m2 0h3m1 0h50m1 0h1m4 0h1m1 0h2m28 0h1m1 0h3m1 0h2m1 0h41m7 0h1M87 446.5h1m4 0h6m1 0h37m1 0h4m2 0h1m34 0h1m1 0h2m1 0h2m1 0h26m1 0h7m1 0h5m1 0h1m3 0h1m24 0h1m5 0h1m1 0h56m1 0h2m1 0h1m1 0h1m21 0h3m1 0h2m2 0h50m1 0h1m1 0h4m26 0h1m2 0h1m1 0h5m1 0h36m3 0h2M85 447.5h1m1 0h1m8 0h43m1 0h2m5 0h1m1 0h1m20 0h1m2 0h1m3 0h3m1 0h3m1 0h27m1 0h17m2 0h2m25 0h4m2 0h2m1 0h53m2 0h1m24 0h5m1 0h51m1 0h1m3 0h1m31 0h6m1 0h37m2 0h3M89 448.5h4m1 0h45m5 0h1m1 0h1m1 0h1m15 0h1m7 0h1m4 0h3m1 0h1m1 0h44m1 0h1m27 0h1m2 0h7m1 0h1m1 0h3m1 0h45m3 0h2m3 0h2m1 0h1m18 0h51m1 0h2m1 0h1m1 0h2m3 0h1m4 0h1m27 0h44m1 0h2m2 0h2M87 449.5h1m1 0h49m1 0h1m1 0h1m3 0h1m23 0h3m2 0h1m1 0h1m1 0h12m1 0h38m4 0h1m3 0h1m18 0h1m1 0h3m1 0h3m2 0h2m1 0h2m1 0h47m1 0h2m6 0h1m16 0h1m1 0h4m2 0h2m1 0h46m1 0h2m3 0h1m3 0h1m27 0h1m1 0h44M92 450.5h46m1 0h4m2 0h2m22 0h2m1 0h6m1 0h1m1 0h2m1 0h43m3 0h1m1 0h1m1 0h1m20 0h1m2 0h3m2 0h3m2 0h54m5 0h1m19 0h1m1 0h5m1 0h48m1 0h3m1 0h1m3 0h1m27 0h7m1 0h39m1 0h3m3 0h1m1 0h1M87 451.5h51m1 0h3m7 0h1m19 0h2m2 0h1m2 0h1m1 0h4m1 0h41m2 0h2m1 0h1m3 0h2m1 0h1m20 0h3m1 0h1m2 0h1m1 0h1m1 0h52m2 0h1m1 0h1m3 0h1m14 0h1m2 0h1m1 0h5m2 0h46m4 0h3m2 0h2m29 0h2m1 0h1m1 0h4m1 0h37M88 452.5h1m1 0h5m1 0h40m1 0h1m1 0h2m8 0h1m17 0h1m1 0h1m1 0h1m2 0h13m1 0h19m1 0h7m1 0h9m2 0h2m2 0h4m22 0h4m1 0h2m1 0h3m1 0h1m2 0h49m1 0h1m3 0h1m17 0h1m1 0h6m2 0h51m3 0h1m32 0h1m2 0h40m2 0h1M88 453.5h1m1 0h1m1 0h44m1 0h3m1 0h1m1 0h1m22 0h1m5 0h1m2 0h2m1 0h1m1 0h6m1 0h6m1 0h34m1 0h1m2 0h1m24 0h3m1 0h1m1 0h3m2 0h1m1 0h48m2 0h1m3 0h2m21 0h7m1 0h47m1 0h1m1 0h1m1 0h1m7 0h1m23 0h3m1 0h42m1 0h2m1 0h2m2 0h1M86 454.5h1m5 0h1m3 0h44m2 0h2m2 0h1m1 0h1m21 0h3m1 0h1m2 0h2m2 0h1m1 0h5m1 0h38m3 0h1m26 0h3m1 0h2m1 0h1m1 0h1m2 0h49m1 0h5m1 0h1m3 0h1m15 0h3m3 0h54m2 0h4m1 0h1m28 0h1m1 0h4m1 0h37m1 0h1m1 0h3m2 0h1M88 455.5h1m1 0h4m2 0h41m1 0h2m1 0h1m2 0h1m30 0h2m1 0h3m2 0h15m1 0h25m1 0h1m1 0h2m1 0h1m5 0h1m21 0h4m2 0h3m1 0h52m2 0h1m6 0h1m3 0h1m7 0h1m5 0h54m1 0h4m1 0h1m4 0h1m1 0h1m25 0h3m2 0h1m2 0h38m1 0h1m2 0h2m2 0h1m1 0h1M84 456.5h2m1 0h4m2 0h3m1 0h46m4 0h1m23 0h2m1 0h1m1 0h2m1 0h1m2 0h25m1 0h16m1 0h1m4 0h1m1 0h1m4 0h1m17 0h1m1 0h1m3 0h4m1 0h4m1 0h51m1 0h2m6 0h1m11 0h1m2 0h1m1 0h4m1 0h50m3 0h1m2 0h1m1 0h3m28 0h2m1 0h1m1 0h39m3 0h2M88 457.5h2m1 0h4m1 0h1m1 0h40m1 0h2m1 0h1m1 0h1m1 0h1m10 0h1m10 0h1m1 0h2m1 0h2m1 0h3m1 0h24m1 0h4m1 0h4m1 0h7m1 0h1m1 0h2m1 0h1m1 0h1m25 0h1m1 0h1m1 0h1m1 0h7m1 0h49m1 0h1m1 0h2m2 0h1m6 0h1m12 0h1m1 0h2m1 0h1m4 0h50m2 0h1m1 0h1m30 0h5m1 0h40m1 0h1m2 0h2M85 458.5h1m3 0h1m1 0h48m1 0h2m1 0h4m25 0h2m1 0h1m1 0h1m2 0h2m1 0h16m1 0h15m1 0h8m1 0h3m1 0h2m1 0h1m1 0h1m6 0h1m15 0h2m4 0h4m1 0h1m1 0h50m2 0h1m3 0h1m2 0h1m15 0h1m2 0h4m1 0h50m3 0h1m1 0h1m30 0h1m1 0h2m2 0h5m1 0h33m1 0h2m4 0h2M89 459.5h4m1 0h1m1 0h1m1 0h43m1 0h3m1 0h1m19 0h1m3 0h2m1 0h6m1 0h28m1 0h11m1 0h1m3 0h2m1 0h1m1 0h2m1 0h1m4 0h1m10 0h1m7 0h1m4 0h1m1 0h1m1 0h6m1 0h47m1 0h3m23 0h1m1 0h1m1 0h1m1 0h50m1 0h3m2 0h2m31 0h2m1 0h42m3 0h1M87 460.5h1m2 0h1m1 0h48m3 0h2m4 0h1m16 0h1m6 0h2m2 0h9m1 0h36m1 0h3m2 0h3m1 0h1m18 0h1m7 0h1m3 0h1m2 0h3m1 0h49m1 0h3m1 0h2m3 0h1m2 0h1m13 0h1m1 0h52m1 0h1m1 0h1m2 0h1m1 0h1m1 0h1m28 0h2m1 0h40m1 0h1m1 0h2m2 0h2m1 0h1M90 461.5h3m1 0h3m1 0h41m1 0h2m30 0h2m6 0h5m1 0h1m1 0h19m1 0h7m1 0h12m4 0h2m22 0h2m2 0h2m2 0h2m1 0h1m2 0h53m1 0h1m2 0h1m15 0h1m2 0h8m1 0h50m5 0h2m7 0h1m20 0h1m1 0h4m1 0h38m1 0h1m1 0h2M83 462.5h1m4 0h1m1 0h4m1 0h3m1 0h44m6 0h1m23 0h1m1 0h1m1 0h1m1 0h27m1 0h15m1 0h3m2 0h3m2 0h3m21 0h1m4 0h4m1 0h1m1 0h2m1 0h48m4 0h1m21 0h2m1 0h5m1 0h2m1 0h45m3 0h2m2 0h1m1 0h1m28 0h4m1 0h41m2 0h2M89 463.5h1m2 0h3m1 0h43m1 0h1m2 0h1m8 0h1m14 0h1m4 0h1m1 0h2m1 0h2m1 0h3m1 0h5m1 0h8m1 0h7m1 0h2m1 0h7m1 0h9m11 0h1m18 0h1m3 0h1m4 0h1m1 0h1m1 0h49m1 0h1m25 0h2m1 0h54m1 0h2m2 0h1m2 0h1m31 0h42m1 0h1m1 0h2M86 464.5h1m2 0h3m2 0h45m1 0h4m5 0h1m16 0h1m2 0h1m1 0h1m2 0h1m4 0h2m1 0h4m3 0h2m1 0h22m1 0h7m1 0h1m1 0h2m3 0h1m1 0h2m23 0h1m2 0h1m1 0h2m1 0h6m1 0h50m2 0h1m5 0h1m11 0h1m3 0h1m3 0h2m1 0h50m6 0h1m31 0h3m1 0h40m1 0h1m1 0h1m1 0h1m1 0h1M87 465.5h3m1 0h2m1 0h48m1 0h2m4 0h1m23 0h2m1 0h1m1 0h3m1 0h18m1 0h5m1 0h17m1 0h3m1 0h3m28 0h5m1 0h54m1 0h1m1 0h1m22 0h8m1 0h49m1 0h2m1 0h1m32 0h4m1 0h39m3 0h2M181 609.5h1m197 0h1m8 0h1m1 0h1m18 0h1M301 610.5h1m98 0h1m75 0h1m3 0h1M323 611.5h1m52 0h1m11 0h1m7 0h1m2 0h1m13 0h1m54 0h1M304 612.5h1m5 0h1m70 0h1m2 0h1m4 0h1m1 0h1m1 0h1m1 0h1m3 0h1m5 0h1m65 0h1m4 0h1m4 0h1m5 0h1M318 613.5h1m50 0h2m10 0h1m5 0h1m3 0h1m7 0h1m4 0h1m49 0h1m10 0h1M193 614.5h1m105 0h1m5 0h1m2 0h1m11 0h1m1 0h1m42 0h1m15 0h2m4 0h1m2 0h1m5 0h2m3 0h3m4 0h2m54 0h1m6 0h1m5 0h1M101 615.5h1m17 0h1m93 0h1m54 0h1m5 0h1m20 0h1m12 0h1m1 0h2m1 0h1m72 0h1m5 0h1m1 0h1m3 0h1m1 0h3m2 0h1m1 0h1m62 0h2M130 616.5h1m87 0h1m81 0h1m3 0h1m1 0h1m6 0h2m72 0h1m4 0h1m1 0h1m1 0h1m2 0h2m3 0h1m63 0h2m1 0h3m1 0h1m5 0h3M104 617.5h1m88 0h1m10 0h1m79 0h1m12 0h1m4 0h1m2 0h2m1 0h1m61 0h1m3 0h1m9 0h3m3 0h3m1 0h2m1 0h2m1 0h1m2 0h1m3 0h1m2 0h1M93 618.5h1m114 0h1m14 0h1m67 0h1m3 0h1m3 0h1m2 0h2m2 0h2m3 0h1m58 0h1m3 0h2m5 0h1m4 0h4m1 0h2m1 0h2m2 0h1m2 0h1m8 0h1m7 0h1m28 0h1m13 0h1m9 0h1m2 0h3m3 0h1m1 0h1m4 0h1m1 0h1m1 0h1M131 619.5h1m5 0h1m83 0h1m80 0h2m3 0h2m11 0h1m54 0h1m1 0h1m1 0h1m3 0h1m1 0h1m1 0h11m2 0h1m6 0h3m2 0h1m56 0h1m3 0h1m2 0h1m2 0h1m4 0h2M271 620.5h1m11 0h1m5 0h1m8 0h1m1 0h3m2 0h1m4 0h1m1 0h1m59 0h1m7 0h1m1 0h3m2 0h1m3 0h2m1 0h13m1 0h2m47 0h1m2 0h1m9 0h1m1 0h1m7 0h1m5 0h1m1 0h1m8 0h1M102 621.5h1m72 0h1m99 0h1m7 0h1m1 0h1m1 0h2m9 0h3m9 0h2m59 0h1m7 0h3m1 0h1m2 0h3m1 0h15m1 0h1m1 0h1m14 0h1m34 0h1m2 0h1m4 0h1m9 0h2m1 0h1m5 0h1m3 0h2m1 0h1m6 0h1M110 622.5h1m73 0h1m10 0h1m4 0h1m3 0h1m9 0h1m1 0h1m6 0h1m57 0h1m10 0h2m2 0h1m1 0h2m1 0h1m3 0h1m3 0h1m1 0h3m3 0h1m41 0h1m2 0h1m6 0h1m3 0h1m1 0h2m1 0h1m3 0h2m1 0h15m1 0h1m1 0h5m6 0h1m38 0h1m12 0h2m4 0h3m3 0h1m1 0h3m3 0h1m2 0h2m3 0h1M115 623.5h1m7 0h1m67 0h1m1 0h1m6 0h1m13 0h1m11 0h1m2 0h1m45 0h1m3 0h1m7 0h1m3 0h1m1 0h1m1 0h1m2 0h1m2 0h3m1 0h3m5 0h1m2 0h1m48 0h2m2 0h3m3 0h1m1 0h2m2 0h4m1 0h16m1 0h1m1 0h3m6 0h1m47 0h1m7 0h2m1 0h1m3 0h1m13 0h1m4 0h1m2 0h2M144 624.5h1m42 0h1m7 0h1m1 0h1m6 0h1m1 0h1m1 0h1m2 0h1m1 0h1m64 0h1m8 0h1m5 0h1m3 0h1m1 0h1m1 0h2m1 0h5m1 0h2m2 0h1m4 0h1m8 0h1m29 0h1m4 0h3m3 0h1m3 0h1m1 0h1m1 0h2m1 0h1m1 0h6m1 0h19m1 0h2m1 0h1m39 0h1m2 0h1m5 0h2m8 0h1m1 0h1m2 0h1m2 0h1m5 0h3m7 0h1m1 0h1M109 625.5h1m9 0h1m3 0h1m2 0h1m3 0h1m40 0h1m21 0h1m2 0h1m2 0h1m5 0h1m9 0h1m2 0h1m47 0h1m5 0h3m5 0h3m1 0h2m1 0h1m1 0h1m1 0h1m1 0h3m2 0h5m2 0h2m1 0h3m2 0h2m43 0h1m4 0h1m3 0h1m2 0h7m1 0h2m1 0h4m1 0h8m1 0h10m1 0h6m3 0h1m33 0h1m4 0h1m10 0h1m2 0h5m2 0h1m2 0h1m4 0h5m1 0h1m2 0h1m11 0h1M100 626.5h1m23 0h1m8 0h1m51 0h1m1 0h2m1 0h1m17 0h4m1 0h1m7 0h2m47 0h1m1 0h1m12 0h3m1 0h2m1 0h3m1 0h3m1 0h4m1 0h9m50 0h1m1 0h1m3 0h1m1 0h6m1 0h3m1 0h26m1 0h1m2 0h1m28 0h1m10 0h1m2 0h1m4 0h1m1 0h2m2 0h4m1 0h3m2 0h3m1 0h1m10 0h1m1 0h1m17 0h1M91 627.5h1m4 0h1m10 0h1m5 0h1m3 0h1m6 0h2m4 0h1m2 0h1m3 0h1m41 0h1m1 0h2m1 0h2m4 0h1m3 0h1m2 0h1m3 0h1m2 0h1m1 0h1m2 0h1m2 0h1m7 0h2m39 0h1m2 0h1m13 0h2m2 0h3m1 0h1m1 0h1m3 0h1m1 0h13m2 0h1m9 0h1m40 0h2m1 0h1m1 0h2m1 0h1m2 0h33m1 0h4m1 0h1m7 0h1m33 0h1m6 0h3m3 0h5m1 0h7m1 0h1m2 0h2m2 0h2m4 0h2m5 0h2m4 0h1M105 628.5h1m1 0h2m6 0h1m6 0h1m11 0h2m37 0h1m8 0h1m6 0h1m2 0h1m1 0h3m1 0h4m1 0h1m2 0h2m3 0h1m2 0h1m4 0h1m3 0h1m6 0h1m2 0h1m24 0h1m4 0h1m2 0h1m1 0h1m1 0h1m1 0h1m3 0h5m1 0h3m3 0h6m1 0h4m1 0h11m1 0h1m1 0h2m36 0h1m2 0h2m2 0h1m1 0h1m1 0h1m1 0h1m1 0h1m1 0h1m1 0h3m1 0h34m5 0h1m42 0h3m3 0h1m1 0h2m1 0h1m1 0h1m2 0h1m2 0h2m1 0h3m1 0h2m2 0h1m2 0h1m5 0h1m1 0h1M91 629.5h1m2 0h1m2 0h1m3 0h2m2 0h1m1 0h2m2 0h1m1 0h1m2 0h2m3 0h1m3 0h1m1 0h1m1 0h2m1 0h1m7 0h1m10 0h1m13 0h1m7 0h1m2 0h1m4 0h1m1 0h1m1 0h1m1 0h2m1 0h3m1 0h4m1 0h1m3 0h5m2 0h2m2 0h1m5 0h1m1 0h1m1 0h2m44 0h1m5 0h1m1 0h2m1 0h1m1 0h2m1 0h5m1 0h2m1 0h15m1 0h3m2 0h4m27 0h1m1 0h1m8 0h2m2 0h1m1 0h1m1 0h2m1 0h38m1 0h3m6 0h1m11 0h1m23 0h1m1 0h1m7 0h1m3 0h1m1 0h1m2 0h2m1 0h3m2 0h1m1 0h2m1 0h3m2 0h1m1 0h2m4 0h2M93 630.5h2m3 0h1m1 0h2m1 0h1m4 0h1m3 0h3m1 0h1m2 0h1m1 0h3m1 0h1m1 0h1m2 0h1m7 0h1m28 0h1m8 0h1m4 0h2m3 0h3m2 0h1m1 0h9m1 0h2m1 0h4m2 0h1m1 0h1m1 0h2m3 0h1m36 0h2m2 0h2m4 0h1m3 0h1m1 0h2m1 0h1m1 0h2m1 0h7m1 0h6m2 0h10m1 0h4m6 0h1m25 0h1m7 0h1m4 0h1m1 0h1m1 0h1m1 0h2m1 0h42m8 0h1m19 0h1m13 0h1m1 0h1m4 0h2m6 0h1m1 0h1m1 0h1m2 0h1m1 0h1m1 0h2m4 0h1m1 0h1m1 0h2m1 0h1m9 0h1M88 631.5h1m4 0h1m2 0h4m3 0h3m1 0h5m3 0h2m2 0h1m1 0h3m1 0h1m4 0h1m1 0h3m31 0h1m9 0h1m1 0h1m2 0h1m3 0h2m2 0h1m1 0h1m2 0h2m1 0h2m1 0h4m1 0h5m4 0h2m1 0h1m1 0h1m1 0h3m4 0h1m31 0h2m3 0h1m1 0h1m4 0h12m1 0h2m2 0h20m2 0h5m38 0h1m2 0h1m1 0h4m1 0h2m1 0h2m1 0h39m2 0h2m1 0h2m39 0h1m3 0h1m1 0h1m1 0h2m1 0h6m2 0h3m1 0h1m1 0h1m2 0h7m1 0h1m2 0h1m2 0h1m3 0h1m10 0h1M85 632.5h1m3 0h1m4 0h1m1 0h10m3 0h4m1 0h1m1 0h2m1 0h4m2 0h3m1 0h2m2 0h2m1 0h1m2 0h1m32 0h3m5 0h2m1 0h1m1 0h11m1 0h7m1 0h3m1 0h3m1 0h5m1 0h2m3 0h2m34 0h1m1 0h1m3 0h2m1 0h1m1 0h1m1 0h2m2 0h5m1 0h28m3 0h3m2 0h1m2 0h1m30 0h1m2 0h1m1 0h1m2 0h1m2 0h3m1 0h45m46 0h2m1 0h1m1 0h1m1 0h9m1 0h2m2 0h1m2 0h1m1 0h3m2 0h3m5 0h2M88 633.5h2m4 0h3m1 0h3m1 0h1m1 0h5m1 0h1m1 0h3m1 0h8m2 0h4m2 0h1m5 0h1m34 0h2m1 0h1m2 0h3m1 0h1m1 0h5m1 0h8m1 0h1m1 0h8m1 0h1m2 0h2m1 0h2m1 0h4m2 0h2m7 0h1m13 0h1m11 0h2m2 0h4m2 0h2m1 0h2m1 0h36m1 0h2m1 0h1m9 0h1m23 0h1m3 0h5m2 0h47m1 0h1m2 0h3m4 0h1m13 0h1m23 0h1m2 0h1m1 0h2m1 0h8m1 0h1m1 0h7m1 0h2m1 0h2m1 0h2m6 0h1M93 634.5h1m3 0h1m1 0h3m2 0h2m1 0h4m1 0h15m1 0h1m1 0h4m2 0h1m1 0h1m30 0h1m4 0h6m1 0h2m1 0h24m1 0h5m2 0h4m2 0h2m1 0h1m5 0h1m1 0h1m20 0h1m5 0h1m1 0h1m1 0h3m2 0h3m1 0h39m3 0h1m3 0h2m38 0h1m1 0h50m3 0h1m46 0h2m2 0h3m2 0h1m1 0h4m1 0h3m1 0h3m1 0h3m2 0h4m2 0h2M89 635.5h1m4 0h1m1 0h6m1 0h11m1 0h2m1 0h9m1 0h3m1 0h2m1 0h2m1 0h1m2 0h1m1 0h1m27 0h1m3 0h1m2 0h5m1 0h5m1 0h15m1 0h4m1 0h1m1 0h2m1 0h7m3 0h2m1 0h1m29 0h1m6 0h1m1 0h46m3 0h1m2 0h1m28 0h1m1 0h1m2 0h4m1 0h50m1 0h1m1 0h1m43 0h2m1 0h2m5 0h2m1 0h4m1 0h1m1 0h14m1 0h1m4 0h1M88 636.5h1m1 0h1m1 0h3m1 0h4m1 0h12m1 0h6m1 0h10m1 0h1m4 0h2m1 0h1m29 0h1m1 0h1m1 0h1m2 0h1m1 0h1m1 0h1m3 0h3m1 0h3m1 0h25m2 0h1m1 0h2m2 0h1m3 0h2m1 0h1m16 0h2m1 0h1m2 0h2m2 0h1m1 0h2m2 0h2m1 0h1m3 0h38m1 0h5m35 0h2m1 0h3m1 0h1m1 0h51m1 0h1m3 0h1m38 0h2m1 0h2m1 0h3m1 0h5m1 0h4m1 0h9m1 0h4m2 0h1m4 0h2M85 637.5h1m3 0h1m1 0h4m1 0h6m1 0h18m1 0h2m1 0h8m2 0h2m1 0h3m28 0h1m4 0h3m2 0h1m1 0h5m1 0h1m1 0h7m1 0h19m1 0h6m1 0h2m3 0h1m4 0h2m6 0h1m6 0h1m4 0h1m4 0h1m1 0h1m2 0h1m1 0h48m2 0h3m31 0h1m1 0h54m1 0h2m1 0h1m3 0h1m2 0h1m25 0h1m5 0h1m8 0h1m3 0h1m1 0h2m1 0h17m2 0h2m5 0h1m1 0h1m2 0h1m12 0h1M87 638.5h3m1 0h4m1 0h5m2 0h27m1 0h8m2 0h2m2 0h1m23 0h1m3 0h2m1 0h1m1 0h3m1 0h31m1 0h4m1 0h3m1 0h1m1 0h1m7 0h1m27 0h1m2 0h2m2 0h48m2 0h2m29 0h1m1 0h1m1 0h1m1 0h3m1 0h2m1 0h49m2 0h1m37 0h1m3 0h1m4 0h1m1 0h2m3 0h4m2 0h15m4 0h1m1 0h3m3 0h1m2 0h1M88 639.5h1m1 0h4m1 0h13m1 0h21m1 0h2m2 0h2m1 0h3m3 0h1m19 0h1m4 0h1m1 0h3m1 0h1m2 0h1m4 0h2m1 0h35m1 0h3m3 0h1m1 0h2m21 0h1m2 0h1m1 0h4m1 0h1m2 0h48m2 0h2m4 0h2m24 0h1m2 0h3m2 0h1m3 0h3m1 0h42m1 0h1m1 0h1m1 0h1m1 0h3m36 0h1m4 0h4m2 0h1m1 0h2m1 0h15m1 0h3m1 0h2m1 0h2m2 0h2m2 0h1M81 640.5h1m2 0h1m2 0h1m2 0h1m1 0h43m2 0h2m2 0h1m2 0h1m24 0h1m1 0h1m2 0h2m1 0h37m1 0h1m1 0h6m3 0h6m2 0h1m14 0h1m1 0h1m2 0h1m1 0h1m2 0h7m1 0h47m2 0h1m1 0h1m3 0h1m23 0h1m4 0h1m1 0h3m1 0h52m1 0h1m1 0h1m31 0h1m7 0h1m1 0h1m4 0h5m1 0h5m1 0h9m2 0h2m1 0h1m1 0h4m11 0h1M85 641.5h1m1 0h1m1 0h1m1 0h1m2 0h2m1 0h38m1 0h1m1 0h2m1 0h2m24 0h2m2 0h1m1 0h1m1 0h2m1 0h39m1 0h6m1 0h5m4 0h2m20 0h1m3 0h1m1 0h1m2 0h5m1 0h41m1 0h1m3 0h3m28 0h1m1 0h4m2 0h1m1 0h53m1 0h2m38 0h1m3 0h3m1 0h4m3 0h1m1 0h15m1 0h6m1 0h1m2 0h1m1 0h1m12 0h1M80 642.5h2m3 0h4m1 0h9m1 0h30m1 0h1m1 0h2m1 0h3m1 0h3m30 0h1m1 0h8m1 0h20m1 0h22m2 0h4m23 0h2m4 0h1m2 0h3m1 0h45m1 0h2m28 0h1m3 0h4m1 0h1m2 0h3m1 0h47m1 0h4m4 0h2m35 0h1m2 0h3m1 0h4m1 0h22m1 0h2m1 0h2m1 0h1m2 0h1M85 643.5h1m1 0h4m1 0h1m2 0h2m1 0h1m1 0h30m1 0h9m1 0h1m1 0h1m1 0h1m19 0h1m2 0h2m1 0h1m1 0h2m2 0h31m1 0h15m1 0h6m27 0h4m1 0h48m1 0h3m1 0h1m2 0h2m1 0h1m26 0h1m1 0h60m2 0h1m3 0h1m31 0h1m8 0h9m1 0h7m1 0h11m2 0h6M87 644.5h2m1 0h2m1 0h41m1 0h1m1 0h3m2 0h1m24 0h1m3 0h8m2 0h36m1 0h7m1 0h2m3 0h1m11 0h1m9 0h2m1 0h2m2 0h1m1 0h2m4 0h42m1 0h5m3 0h1m30 0h60m1 0h2m30 0h1m8 0h1m8 0h1m1 0h13m1 0h10m1 0h3m1 0h2m1 0h2m2 0h1m3 0h1M85 645.5h1m2 0h4m1 0h40m1 0h1m1 0h1m1 0h1m1 0h1m2 0h1m2 0h1m1 0h1m17 0h1m2 0h1m1 0h4m1 0h1m2 0h5m1 0h30m1 0h12m1 0h2m1 0h1m3 0h1m17 0h2m2 0h1m1 0h2m1 0h1m1 0h50m1 0h2m2 0h1m1 0h1m1 0h1m23 0h2m1 0h8m1 0h51m44 0h1m3 0h6m1 0h22m1 0h1m1 0h2m3 0h1m1 0h1m11 0h1M87 646.5h1m2 0h1m1 0h1m1 0h39m6 0h1m2 0h2m24 0h1m3 0h2m2 0h5m1 0h1m1 0h32m1 0h8m1 0h1m3 0h1m21 0h1m2 0h3m1 0h5m1 0h49m33 0h1m2 0h5m1 0h1m1 0h50m1 0h2m1 0h2m29 0h1m6 0h1m2 0h1m5 0h1m1 0h1m1 0h8m1 0h17m2 0h2m4 0h1m1 0h1M87 647.5h2m1 0h1m3 0h3m1 0h34m2 0h2m1 0h2m3 0h2m25 0h1m1 0h3m1 0h1m1 0h1m1 0h8m1 0h17m1 0h1m1 0h16m1 0h3m1 0h1m1 0h1m18 0h1m1 0h1m4 0h1m1 0h1m1 0h1m1 0h2m1 0h46m1 0h3m4 0h1m1 0h1m23 0h3m4 0h3m2 0h53m5 0h1m36 0h1m1 0h2m1 0h3m2 0h20m1 0h6m2 0h1m3 0h1m1 0h1m1 0h1m3 0h1M87 648.5h1m3 0h45m3 0h1m1 0h1m4 0h1m16 0h1m2 0h1m2 0h1m2 0h6m1 0h2m1 0h2m1 0h40m2 0h1m1 0h1m1 0h3m1 0h1m12 0h1m1 0h1m2 0h4m1 0h5m2 0h49m2 0h2m1 0h1m2 0h1m25 0h1m1 0h4m2 0h54m7 0h1m34 0h1m2 0h2m2 0h2m2 0h26m1 0h2m4 0h2m5 0h1M84 649.5h1m5 0h1m1 0h6m1 0h33m1 0h1m1 0h1m3 0h2m1 0h1m27 0h3m1 0h1m1 0h1m1 0h6m1 0h4m1 0h36m2 0h1m6 0h1m10 0h1m5 0h5m1 0h3m1 0h1m2 0h2m1 0h44m1 0h1m35 0h3m1 0h3m2 0h52m4 0h1m33 0h1m2 0h1m4 0h1m1 0h2m1 0h16m1 0h4m1 0h2m1 0h4m2 0h1m6 0h1m2 0h1m2 0h1M84 650.5h2m1 0h1m1 0h1m1 0h4m1 0h3m1 0h32m2 0h1m1 0h2m1 0h1m5 0h1m24 0h2m1 0h2m3 0h21m1 0h9m1 0h10m1 0h1m1 0h5m1 0h2m1 0h1m18 0h1m1 0h3m1 0h4m1 0h51m3 0h1m1 0h2m3 0h1m22 0h7m3 0h54m2 0h1m4 0h1m31 0h1m3 0h2m2 0h2m1 0h1m1 0h2m1 0h1m1 0h23m2 0h3m2 0h2m2 0h2M84 651.5h1m1 0h1m2 0h3m1 0h2m1 0h33m1 0h3m1 0h2m5 0h2m19 0h1m8 0h1m1 0h1m1 0h1m1 0h1m2 0h1m1 0h12m1 0h3m1 0h13m1 0h2m1 0h3m1 0h3m1 0h1m1 0h3m1 0h1m1 0h2m18 0h5m2 0h5m1 0h48m5 0h2m27 0h1m3 0h2m1 0h2m1 0h51m1 0h4m1 0h1m1 0h1m27 0h1m9 0h2m2 0h3m3 0h4m1 0h20m1 0h1m2 0h1m1 0h1m5 0h1M85 652.5h1m2 0h4m2 0h40m1 0h1m2 0h3m18 0h1m4 0h1m6 0h3m1 0h3m2 0h1m1 0h22m1 0h11m2 0h6m3 0h3m4 0h1m13 0h1m3 0h1m2 0h1m3 0h1m3 0h2m1 0h45m2 0h1m1 0h2m1 0h3m2 0h1m24 0h2m1 0h1m1 0h1m1 0h53m2 0h3m2 0h1m32 0h1m4 0h1m1 0h4m2 0h1m1 0h15m1 0h12m2 0h1m5 0h1m4 0h1M86 653.5h2m1 0h1m2 0h1m2 0h42m3 0h1m2 0h2m19 0h1m4 0h3m3 0h1m1 0h17m1 0h22m1 0h3m2 0h2m1 0h1m1 0h4m15 0h3m3 0h2m1 0h1m2 0h1m2 0h53m1 0h2m3 0h1m2 0h1m2 0h1m20 0h7m1 0h3m1 0h50m1 0h4m1 0h1m36 0h1m2 0h2m1 0h3m2 0h18m1 0h7m4 0h2M83 654.5h1m3 0h1m3 0h44m1 0h1m2 0h1m2 0h2m20 0h1m4 0h1m1 0h2m1 0h2m1 0h2m1 0h45m3 0h1m1 0h2m1 0h2m18 0h4m1 0h2m2 0h4m1 0h47m1 0h2m1 0h1m7 0h1m21 0h3m3 0h2m2 0h53m2 0h1m1 0h1m37 0h1m2 0h3m1 0h3m1 0h18m1 0h1m1 0h1m1 0h2m3 0h1m1 0h1m1 0h2m2 0h2M85 655.5h1m1 0h1m1 0h1m1 0h4m2 0h39m2 0h4m24 0h1m1 0h1m1 0h1m1 0h1m2 0h4m1 0h1m1 0h4m1 0h7m2 0h4m1 0h3m1 0h19m1 0h1m3 0h1m1 0h2m17 0h1m3 0h1m4 0h3m1 0h47m1 0h1m2 0h3m27 0h1m4 0h1m1 0h2m1 0h3m1 0h51m1 0h1m39 0h1m3 0h2m1 0h2m1 0h3m1 0h9m1 0h3m1 0h6m1 0h3m1 0h1m2 0h1m1 0h1m9 0h1m4 0h1M83 656.5h1m4 0h5m3 0h1m1 0h38m3 0h1m8 0h1m25 0h2m1 0h1m1 0h1m1 0h5m2 0h16m1 0h13m1 0h8m1 0h3m1 0h1m4 0h1m11 0h1m3 0h2m1 0h1m2 0h53m2 0h4m26 0h1m1 0h1m1 0h2m1 0h2m2 0h53m1 0h1m1 0h1m4 0h1m34 0h1m6 0h2m1 0h1m1 0h19m1 0h7m2 0h1m3 0h1M85 657.5h1m2 0h45m1 0h3m2 0h2m3 0h1m24 0h2m3 0h1m1 0h1m1 0h1m2 0h2m1 0h10m1 0h26m2 0h4m3 0h2m2 0h2m10 0h1m4 0h7m1 0h2m1 0h1m1 0h2m1 0h48m1 0h2m2 0h1m25 0h1m1 0h1m1 0h1m1 0h2m2 0h1m1 0h49m1 0h2m1 0h1m1 0h1m3 0h1m23 0h1m14 0h2m1 0h1m1 0h5m2 0h1m1 0h2m1 0h4m1 0h2m1 0h2m1 0h4m1 0h1m1 0h1m1 0h1m2 0h3m4 0h1M87 658.5h3m1 0h3m2 0h2m1 0h39m1 0h1m3 0h2m24 0h1m1 0h3m1 0h24m1 0h15m1 0h6m1 0h4m1 0h2m3 0h1m1 0h1m11 0h1m2 0h1m1 0h1m1 0h1m2 0h4m1 0h2m1 0h47m1 0h1m4 0h1m2 0h1m21 0h1m1 0h1m1 0h4m2 0h1m1 0h53m4 0h1m40 0h1m3 0h4m1 0h1m1 0h1m1 0h1m1 0h1m1 0h2m1 0h4m1 0h8m2 0h1m1 0h1m1 0h1m1 0h2m1 0h1M85 659.5h1m6 0h4m1 0h1m1 0h36m3 0h1m5 0h1m3 0h1m19 0h2m4 0h1m1 0h1m1 0h2m1 0h1m2 0h12m1 0h1m1 0h10m1 0h12m1 0h7m3 0h1m3 0h1m9 0h1m5 0h1m1 0h1m1 0h3m1 0h50m1 0h4m2 0h1m2 0h1m2 0h1m20 0h5m1 0h8m1 0h53m1 0h1m27 0h1m2 0h2m6 0h1m6 0h5m2 0h2m1 0h15m2 0h1m4 0h4m5 0h1M84 660.5h1m3 0h6m1 0h4m1 0h33m1 0h2m1 0h1m3 0h2m2 0h1m22 0h1m2 0h29m1 0h6m1 0h5m1 0h12m1 0h2m3 0h1m4 0h1m7 0h1m1 0h1m1 0h1m1 0h1m1 0h3m4 0h1m2 0h2m1 0h51m5 0h1m22 0h2m1 0h1m1 0h3m1 0h1m2 0h51m1 0h1m1 0h1m38 0h1m1 0h1m2 0h3m2 0h2m1 0h1m1 0h2m2 0h1m1 0h2m1 0h1m1 0h12m3 0h4m2 0h2M82 661.5h1m3 0h2m1 0h1m1 0h2m1 0h1m1 0h2m1 0h2m1 0h29m1 0h2m1 0h1m1 0h2m1 0h2m2 0h1m23 0h1m1 0h1m3 0h1m1 0h1m2 0h21m1 0h20m2 0h3m6 0h1m3 0h2m6 0h1m3 0h1m8 0h1m1 0h1m2 0h51m1 0h2m1 0h1m3 0h1m5 0h1m15 0h2m3 0h1m1 0h3m1 0h1m1 0h3m1 0h46m1 0h4m1 0h2m5 0h1m27 0h1m6 0h1m1 0h8m1 0h2m1 0h22m1 0h1m7 0h1M85 662.5h6m2 0h1m3 0h1m1 0h32m2 0h1m2 0h4m4 0h1m1 0h1m21 0h1m4 0h1m1 0h5m1 0h31m2 0h11m1 0h1m1 0h1m3 0h2m1 0h1m13 0h1m1 0h2m3 0h3m1 0h1m1 0h1m1 0h45m1 0h2m2 0h1m3 0h2m26 0h3m4 0h2m2 0h52m1 0h2m1 0h2m16 0h1m22 0h1m4 0h1m3 0h2m1 0h2m1 0h5m1 0h4m3 0h1m1 0h1m1 0h1m2 0h1m1 0h1m1 0h1m2 0h2m5 0h1m1 0h1M87 663.5h2m1 0h2m4 0h37m1 0h1m1 0h2m1 0h1m1 0h1m21 0h1m4 0h1m2 0h3m2 0h1m1 0h15m1 0h28m4 0h1m4 0h1m14 0h1m2 0h1m2 0h2m1 0h2m1 0h1m1 0h1m1 0h2m1 0h54m28 0h3m3 0h1m1 0h2m1 0h50m1 0h4m16 0h1m13 0h1m10 0h1m2 0h1m1 0h1m1 0h1m4 0h7m2 0h9m1 0h4m1 0h1m6 0h1m7 0h1M89 664.5h4m1 0h3m1 0h35m3 0h2m1 0h1m1 0h3m2 0h1m20 0h1m4 0h3m1 0h2m1 0h2m2 0h30m1 0h7m1 0h3m1 0h2m7 0h1m1 0h1m1 0h1m9 0h2m3 0h1m2 0h1m1 0h5m1 0h48m1 0h4m28 0h6m2 0h1m4 0h51m1 0h2m1 0h1m27 0h1m9 0h1m3 0h1m1 0h5m2 0h1m3 0h3m1 0h1m1 0h1m2 0h2m2 0h1m2 0h3m2 0h1m2 0h2m4 0h1m1 0h1m9 0h1M85 665.5h4m1 0h3m1 0h1m1 0h37m1 0h4m1 0h1m30 0h1m1 0h2m1 0h3m1 0h9m1 0h30m1 0h1m1 0h2m1 0h4m3 0h1m15 0h1m1 0h1m2 0h1m2 0h1m5 0h49m1 0h3m5 0h1m1 0h1m5 0h1m15 0h1m4 0h1m1 0h1m1 0h1m1 0h53m1 0h1m1 0h1m1 0h1m3 0h1m35 0h1m2 0h1m1 0h1m1 0h1m2 0h4m2 0h2m2 0h10m1 0h1m2 0h2m1 0h2m1 0h1m6 0h1M86 666.5h4m1 0h2m2 0h1m1 0h1m1 0h3m1 0h31m1 0h1m2 0h1m8 0h1m20 0h1m2 0h1m1 0h3m1 0h1m1 0h3m1 0h1m1 0h10m1 0h1m1 0h18m1 0h8m3 0h1m1 0h1m20 0h4m3 0h2m2 0h53m5 0h2m26 0h3m2 0h1m1 0h1m1 0h52m3 0h2m1 0h1m23 0h1m6 0h1m2 0h2m1 0h2m1 0h1m2 0h1m3 0h1m2 0h1m1 0h2m1 0h11m1 0h5m4 0h2m3 0h1m2 0h1M85 667.5h4m1 0h2m2 0h3m1 0h36m1 0h1m1 0h1m1 0h3m27 0h2m3 0h1m2 0h2m1 0h26m2 0h3m1 0h4m1 0h5m1 0h1m2 0h1m1 0h1m2 0h1m20 0h1m4 0h6m1 0h48m2 0h1m2 0h1m1 0h1m2 0h1m4 0h1m19 0h1m1 0h2m1 0h1m2 0h53m2 0h1m1 0h1m41 0h1m2 0h1m3 0h1m1 0h1m1 0h2m2 0h2m1 0h1m1 0h2m3 0h6m1 0h1m5 0h1m1 0h1M82 668.5h1m3 0h2m1 0h1m1 0h1m1 0h5m1 0h34m2 0h3m2 0h3m20 0h1m8 0h1m4 0h4m1 0h14m1 0h8m1 0h14m2 0h1m1 0h2m1 0h1m2 0h2m17 0h1m1 0h1m1 0h1m2 0h1m7 0h50m4 0h1m8 0h1m21 0h1m3 0h3m1 0h1m1 0h2m1 0h51m30 0h2m13 0h1m2 0h3m4 0h2m1 0h3m1 0h1m1 0h5m1 0h1m2 0h3m1 0h2m1 0h1M84 669.5h1m4 0h2m2 0h4m1 0h34m4 0h2m2 0h1m1 0h2m35 0h2m1 0h7m1 0h10m1 0h6m1 0h10m1 0h11m18 0h1m5 0h1m3 0h1m1 0h2m1 0h48m1 0h3m2 0h1m27 0h2m1 0h1m1 0h3m1 0h1m1 0h54m2 0h1m3 0h1m21 0h2m12 0h1m2 0h1m3 0h5m2 0h5m1 0h4m1 0h3m2 0h1m1 0h4m1 0h1m3 0h1m7 0h1m2 0h1M88 670.5h4m1 0h1m1 0h1m1 0h1m1 0h1m1 0h28m1 0h2m1 0h6m1 0h1m28 0h3m1 0h4m1 0h2m1 0h32m1 0h1m1 0h6m1 0h6m1 0h2m1 0h2m5 0h1m9 0h5m1 0h1m1 0h54m1 0h1m2 0h1m2 0h1m1 0h1m22 0h1m1 0h1m1 0h3m3 0h56m2 0h1m27 0h1m10 0h1m3 0h3m1 0h2m4 0h1m1 0h2m1 0h1m1 0h4m1 0h3m4 0h1m2 0h1m1 0h1m5 0h1m1 0h1m5 0h1M90 671.5h3m2 0h35m1 0h5m1 0h1m35 0h1m1 0h1m1 0h1m1 0h13m1 0h14m1 0h13m1 0h4m2 0h1m3 0h1m1 0h1m3 0h1m11 0h1m2 0h7m1 0h2m1 0h52m3 0h1m25 0h10m1 0h2m1 0h51m1 0h2m33 0h1m1 0h1m4 0h1m3 0h1m3 0h1m4 0h2m2 0h1m1 0h1m2 0h1m3 0h4m1 0h1m1 0h3m1 0h2m1 0h2m1 0h1M85 672.5h1m1 0h2m1 0h2m1 0h38m1 0h4m1 0h2m3 0h1m20 0h1m8 0h2m3 0h3m2 0h10m1 0h2m1 0h3m1 0h13m1 0h11m1 0h5m1 0h1m2 0h1m16 0h4m1 0h1m1 0h1m1 0h1m1 0h3m1 0h44m1 0h3m1 0h3m2 0h1m24 0h1m1 0h2m1 0h3m2 0h1m1 0h49m1 0h1m1 0h5m1 0h1m23 0h1m7 0h1m3 0h1m1 0h2m1 0h3m1 0h4m1 0h3m1 0h4m3 0h1m1 0h3m3 0h2m2 0h3m18 0h1M88 673.5h1m3 0h1m2 0h41m1 0h2m1 0h2m25 0h2m1 0h1m2 0h1m1 0h3m1 0h2m1 0h5m1 0h6m2 0h22m1 0h2m1 0h4m1 0h2m1 0h4m3 0h1m11 0h3m2 0h1m2 0h1m3 0h52m1 0h2m3 0h1m2 0h1m22 0h1m1 0h3m1 0h1m1 0h3m1 0h1m1 0h49m2 0h2m1 0h1m1 0h1m22 0h1m15 0h2m1 0h2m2 0h1m1 0h2m1 0h6m1 0h5m2 0h2m2 0h1m1 0h1m2 0h2m2 0h1m1 0h1m9 0h1m4 0h1M90 674.5h1m1 0h2m3 0h1m1 0h34m1 0h1m6 0h1m2 0h1m1 0h1m17 0h1m6 0h1m1 0h3m1 0h1m1 0h8m2 0h11m1 0h4m1 0h20m1 0h3m3 0h1m13 0h1m4 0h1m2 0h1m4 0h1m4 0h47m1 0h4m26 0h1m2 0h6m1 0h1m1 0h1m1 0h51m8 0h1m22 0h1m10 0h1m3 0h1m1 0h1m1 0h2m2 0h3m1 0h1m1 0h1m1 0h2m1 0h4m1 0h1m2 0h4m6 0h1m1 0h1m3 0h1m4 0h1m10 0h1M86 675.5h1m2 0h2m1 0h1m1 0h35m1 0h5m1 0h5m1 0h2m22 0h1m2 0h4m1 0h1m2 0h5m2 0h11m1 0h18m1 0h9m2 0h3m1 0h1m1 0h1m16 0h1m2 0h1m3 0h1m1 0h2m1 0h1m1 0h48m1 0h2m3 0h1m2 0h3m4 0h1m17 0h1m3 0h1m2 0h56m11 0h1m23 0h1m1 0h1m1 0h1m12 0h2m1 0h1m2 0h1m1 0h4m1 0h1m1 0h1m1 0h1m1 0h1m1 0h1m1 0h1m1 0h4m2 0h1m3 0h1m3 0h1m9 0h1M87 676.5h7m2 0h38m2 0h3m25 0h1m5 0h1m1 0h5m1 0h12m1 0h1m1 0h12m1 0h14m1 0h5m6 0h1m17 0h1m2 0h1m2 0h1m1 0h1m2 0h6m1 0h45m1 0h3m29 0h3m1 0h4m1 0h1m1 0h53m6 0h1m16 0h1m28 0h1m2 0h1m3 0h5m5 0h1m2 0h3m1 0h1m1 0h2m2 0h1m2 0h1m5 0h1m1 0h1M87 677.5h1m1 0h2m2 0h40m1 0h6m3 0h1m21 0h1m1 0h1m3 0h3m2 0h3m1 0h3m1 0h8m1 0h24m1 0h6m1 0h1m1 0h5m8 0h1m6 0h1m3 0h1m1 0h6m1 0h5m1 0h48m2 0h1m26 0h1m1 0h1m2 0h2m1 0h2m2 0h54m1 0h1m3 0h1m26 0h1m2 0h1m8 0h1m2 0h1m1 0h2m3 0h3m1 0h1m1 0h1m1 0h2m3 0h2m3 0h1m1 0h2m3 0h2m1 0h1m4 0h2M87 678.5h1m5 0h5m1 0h1m1 0h31m2 0h2m2 0h2m1 0h2m3 0h1m1 0h1m22 0h2m1 0h1m1 0h1m1 0h4m1 0h1m3 0h15m1 0h3m1 0h3m1 0h3m1 0h11m2 0h1m1 0h1m1 0h2m1 0h1m13 0h2m1 0h1m5 0h1m1 0h1m1 0h49m1 0h2m3 0h2m3 0h1m2 0h1m20 0h1m1 0h3m1 0h1m2 0h1m3 0h54m23 0h1m3 0h1m2 0h1m10 0h1m2 0h1m2 0h1m1 0h2m4 0h2m1 0h8m1 0h2m2 0h1m2 0h1m2 0h1M86 679.5h2m1 0h1m2 0h1m1 0h2m1 0h40m1 0h3m1 0h1m1 0h1m20 0h1m4 0h2m2 0h2m2 0h1m2 0h1m1 0h31m2 0h6m2 0h1m1 0h1m1 0h2m1 0h1m18 0h1m2 0h1m1 0h1m2 0h2m1 0h1m1 0h51m4 0h1m6 0h1m19 0h4m2 0h1m1 0h1m2 0h4m1 0h51m3 0h1m11 0h1m8 0h1m12 0h1m1 0h1m2 0h1m5 0h1m3 0h2m1 0h1m3 0h1m4 0h1m1 0h3m1 0h1m1 0h1m2 0h1m4 0h1m8 0h1m7 0h1M87 680.5h1m2 0h1m1 0h4m1 0h1m1 0h36m2 0h1m1 0h1m1 0h1m4 0h1m24 0h3m1 0h1m2 0h1m1 0h26m1 0h1m1 0h17m3 0h1m18 0h1m1 0h2m1 0h1m1 0h1m1 0h1m3 0h2m1 0h1m1 0h50m29 0h1m1 0h1m2 0h2m5 0h54m2 0h2m27 0h1m12 0h2m3 0h1m4 0h2m1 0h1m1 0h2m6 0h3m2 0h1m3 0h1m1 0h1m4 0h2m5 0h1M83 681.5h1m4 0h2m1 0h39m1 0h2m1 0h3m7 0h2m22 0h1m1 0h1m3 0h6m1 0h8m2 0h6m1 0h8m1 0h1m1 0h5m1 0h7m2 0h2m4 0h1m16 0h1m1 0h1m1 0h1m7 0h1m2 0h5m1 0h46m1 0h1m2 0h2m4 0h1m19 0h1m1 0h1m5 0h1m2 0h2m2 0h49m1 0h1m1 0h1m2 0h1m32 0h1m1 0h1m4 0h1m1 0h1m7 0h1m1 0h3m1 0h4m1 0h2m1 0h2m5 0h1m1 0h3m4 0h1M86 682.5h2m2 0h47m1 0h1m2 0h1m20 0h1m2 0h1m3 0h1m2 0h1m1 0h1m3 0h18m1 0h3m1 0h2m1 0h7m2 0h10m1 0h1m2 0h3m4 0h1m7 0h1m7 0h1m2 0h1m4 0h1m2 0h3m1 0h49m1 0h2m3 0h1m28 0h2m1 0h6m1 0h49m1 0h2m3 0h1m21 0h1m4 0h1m3 0h1m1 0h2m1 0h1m2 0h3m1 0h1m1 0h1m1 0h5m2 0h2m1 0h4m7 0h2m5 0h1m2 0h3m15 0h1M85 683.5h1m2 0h3m1 0h1m1 0h1m1 0h33m1 0h1m5 0h2m2 0h1m23 0h1m9 0h3m1 0h4m1 0h1m2 0h1m1 0h4m1 0h11m1 0h9m1 0h6m2 0h3m6 0h1m1 0h1m2 0h1m11 0h1m1 0h1m1 0h8m1 0h2m1 0h46m1 0h1m3 0h1m28 0h1m1 0h3m2 0h59m2 0h1m4 0h1m1 0h1m28 0h1m2 0h1m1 0h1m1 0h2m5 0h2m1 0h2m5 0h1m1 0h1m1 0h1m7 0h3m6 0h1m11 0h1m5 0h1M86 684.5h1m1 0h4m2 0h1m1 0h39m1 0h4m1 0h2m23 0h1m1 0h2m4 0h1m3 0h5m1 0h21m1 0h6m2 0h2m1 0h6m1 0h5m1 0h1m16 0h1m6 0h3m2 0h1m1 0h2m1 0h2m1 0h45m1 0h2m2 0h2m1 0h1m1 0h1m24 0h2m4 0h1m1 0h54m1 0h3m6 0h1m21 0h1m5 0h2m6 0h2m2 0h1m1 0h1m2 0h1m2 0h7m1 0h3m1 0h1m1 0h2m5 0h2m2 0h1m2 0h1m2 0h1M87 685.5h1m3 0h1m2 0h36m1 0h4m2 0h2m1 0h1m4 0h1m21 0h1m2 0h1m2 0h2m1 0h5m1 0h2m1 0h4m1 0h7m1 0h2m1 0h2m1 0h2m1 0h17m1 0h1m1 0h2m1 0h2m5 0h1m17 0h1m4 0h1m3 0h49m4 0h2m6 0h1m19 0h2m1 0h1m4 0h57m1 0h1m6 0h1m22 0h2m2 0h1m1 0h1m3 0h1m8 0h4m3 0h2m2 0h3m2 0h2m3 0h1m2 0h1m2 0h1m1 0h1m1 0h2m2 0h1m8 0h1M83 686.5h1m2 0h1m1 0h3m2 0h2m1 0h1m1 0h1m1 0h31m1 0h6m1 0h1m1 0h5m1 0h1m18 0h1m2 0h3m1 0h1m1 0h4m1 0h25m2 0h19m4 0h1m2 0h1m11 0h1m4 0h3m1 0h1m1 0h1m1 0h3m1 0h2m1 0h49m1 0h2m2 0h1m26 0h2m1 0h1m1 0h3m1 0h55m3 0h1m31 0h1m4 0h1m6 0h2m3 0h3m1 0h2m1 0h6m4 0h1m1 0h1m3 0h2m1 0h3m4 0h1m1 0h1M87 687.5h1m1 0h1m1 0h1m1 0h1m1 0h2m1 0h34m2 0h1m2 0h3m1 0h1m27 0h1m2 0h2m2 0h1m2 0h2m3 0h8m1 0h16m1 0h12m1 0h1m1 0h1m2 0h2m18 0h1m2 0h4m1 0h2m1 0h6m1 0h45m1 0h1m1 0h1m4 0h3m23 0h2m3 0h1m1 0h3m2 0h55m1 0h3m17 0h1m7 0h1m4 0h1m1 0h1m6 0h2m9 0h1m1 0h2m2 0h2m2 0h4m1 0h5m3 0h1m1 0h3m1 0h1m1 0h1M85 688.5h1m1 0h4m1 0h42m1 0h1m1 0h1m3 0h2m23 0h1m1 0h2m2 0h1m1 0h1m1 0h1m1 0h2m1 0h5m1 0h26m1 0h1m1 0h4m3 0h3m1 0h3m10 0h1m7 0h1m1 0h1m3 0h1m3 0h1m2 0h2m1 0h52m5 0h1m22 0h1m2 0h1m2 0h59m1 0h3m33 0h1m3 0h1m1 0h2m2 0h4m1 0h3m1 0h7m1 0h5m1 0h3m3 0h2m1 0h4m2 0h1m4 0h2m12 0h1M83 689.5h1m2 0h1m3 0h12m1 0h30m1 0h3m3 0h1m1 0h1m4 0h1m18 0h1m1 0h1m4 0h1m1 0h1m4 0h2m1 0h8m2 0h21m2 0h10m1 0h1m2 0h1m2 0h1m15 0h4m1 0h1m1 0h1m2 0h1m5 0h49m3 0h1m1 0h2m5 0h1m19 0h1m1 0h1m1 0h6m3 0h54m2 0h1m8 0h1m19 0h1m4 0h1m6 0h1m1 0h2m1 0h4m4 0h1m1 0h3m1 0h1m1 0h6m2 0h1m12 0h1M87 690.5h5m2 0h37m1 0h1m2 0h1m2 0h1m2 0h2m1 0h1m2 0h1m15 0h1m6 0h1m4 0h3m1 0h1m1 0h1m1 0h7m1 0h2m1 0h11m2 0h13m2 0h3m2 0h4m2 0h1m3 0h1m10 0h1m3 0h2m3 0h1m1 0h2m1 0h1m1 0h48m2 0h1m1 0h1m7 0h2m21 0h5m1 0h2m1 0h2m1 0h50m2 0h1m3 0h2m22 0h1m8 0h1m4 0h1m1 0h1m6 0h5m1 0h2m1 0h4m3 0h1m1 0h1m1 0h1m1 0h1m1 0h3m3 0h1m2 0h1m4 0h2m11 0h1" stroke="#000" stroke-width="1" fill="none" shape-rendering="crispEdges"/><path d="M138 376.5h1M127 377.5h1M112 375.5h1M93 353.5h1M134 366.5h1M107 344.5h1M82 371.5h1M136 334.5h1M138 379.5h1M118 351.5h1M137 361.5h1M120 301.5h1M133 349.5h1M97 373.5h1M107 327.5h1M111 379.5h1M118 349.5h1M118 380.5h1M104 350.5h1M133 376.5h1M109 349.5h1M110 321.5h1M125 345.5h1M114 362.5h1M142 323.5h1M110 372.5h1M106 351.5h1M144 350.5h1M113 358.5h1M124 328.5h1M120 359.5h1M139 370.5h1M99 376.5h1M109 335.5h1M95 362.5h1M114 323.5h1M145 375.5h1M111 371.5h1M135 355.5h1M123 355.5h1M113 359.5h1M113 351.5h1M122 372.5h1M109 376.5h1M145 377.5h1M129 299.5h1M114 362.5h1M120 373.5h1M133 376.5h1M124 308.5h1M125 320.5h1M116 362.5h1M118 364.5h1M192 344.5h1M217 379.5h1M181 374.5h1M193 353.5h1M221 359.5h1M228 366.5h1M197 371.5h1M192 364.5h1M222 370.5h1M229 370.5h1M218 373.5h1M207 285.5h1M212 370.5h1M192 366.5h1M231 364.5h1M212 365.5h1M216 377.5h1M199 364.5h1M174 348.5h1M216 369.5h1M196 361.5h1M203 339.5h1M226 365.5h1M183 377.5h1M210 282.5h1M222 368.5h1M202 359.5h1M219 363.5h1M314 374.5h1M295 365.5h1M292 368.5h1M296 377.5h1M299 372.5h1M288 344.5h1M315 371.5h1M303 376.5h1M297 379.5h1M297 380.5h1M298 377.5h1M294 333.5h1M289 371.5h1M315 353.5h1M293 378.5h1M298 378.5h1M286 376.5h1M308 379.5h1M286 360.5h1M320 368.5h1M325 379.5h1M297 368.5h1M292 379.5h1M303 324.5h1M276 331.5h1M308 379.5h1M277 374.5h1M297 354.5h1M322 367.5h1M327 378.5h1M285 369.5h1M300 318.5h1M307 331.5h1M320 360.5h1M308 372.5h1M285 376.5h1M289 374.5h1M285 365.5h1M317 377.5h1M298 375.5h1M302 357.5h1M301 374.5h1M283 376.5h1M315 380.5h1M309 350.5h1M295 377.5h1M275 378.5h1M322 378.5h1M304 379.5h1M295 378.5h1M305 375.5h1M314 350.5h1M297 337.5h1M310 376.5h1M315 359.5h1M294 379.5h1M297 346.5h1M313 375.5h1M294 373.5h1M313 285.5h1M292 347.5h1M286 349.5h1M304 376.5h1M283 341.5h1M308 292.5h1M320 366.5h1M299 366.5h1M315 363.5h1M390 342.5h1M373 367.5h1M392 372.5h1M353 370.5h1M372 342.5h1M384 362.5h1M369 375.5h1M368 365.5h1M397 332.5h1M371 370.5h1M412 376.5h1M377 357.5h1M375 356.5h1M388 352.5h1M408 359.5h1M393 374.5h1M380 359.5h1M385 356.5h1M402 373.5h1M398 368.5h1M368 365.5h1M402 373.5h1M387 369.5h1M390 376.5h1M377 374.5h1M387 368.5h1M387 364.5h1M366 370.5h1M365 368.5h1M362 377.5h1M390 365.5h1M388 362.5h1M401 378.5h1M378 347.5h1M393 363.5h1M388 378.5h1M372 320.5h1M410 375.5h1M409 377.5h1M408 373.5h1M388 379.5h1M375 375.5h1M400 364.5h1M379 378.5h1M383 356.5h1M349 379.5h1M413 377.5h1M387 375.5h1M394 352.5h1M391 346.5h1M380 371.5h1M399 374.5h1M385 376.5h1M399 377.5h1M367 375.5h1M378 352.5h1M393 368.5h1M400 361.5h1M386 363.5h1M462 372.5h1M447 378.5h1M451 380.5h1M469 378.5h1M478 367.5h1M467 375.5h1M465 369.5h1M484 375.5h1M447 376.5h1M483 377.5h1M475 378.5h1M481 377.5h1M462 378.5h1M447 373.5h1M463 367.5h1M461 373.5h1M475 375.5h1M475 379.5h1M461 376.5h1M464 376.5h1M479 376.5h1M467 361.5h1M469 378.5h1M445 377.5h1M489 362.5h1M472 368.5h1M456 379.5h1M457 376.5h1M478 345.5h1M480 358.5h1M205 599.5h1M195 604.5h1M189 603.5h1M282 604.5h1M299 598.5h1M297 604.5h1M280 599.5h1M378 589.5h1M472 603.5h1M459 599.5h1" stroke="#222" stroke-width="1" fill="none" shape-rendering="crispEdges"/>
</svg>
</body></html>
